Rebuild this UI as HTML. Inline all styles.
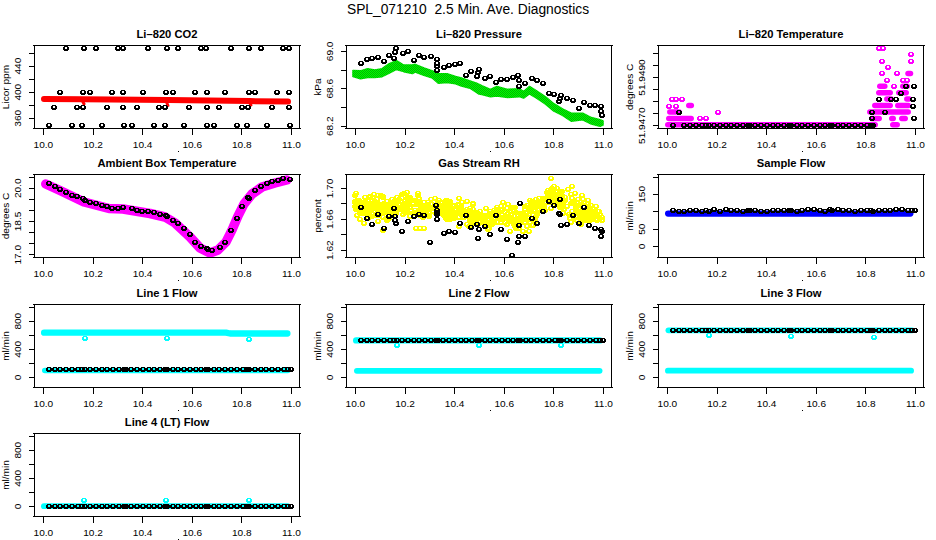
<!DOCTYPE html>
<html><head><meta charset="utf-8"><style>
html,body{margin:0;padding:0;background:#fff;}
svg{display:block;}
text{font-family:"Liberation Sans",sans-serif;fill:#000;}
.tk{font-size:10.1px;}
.lb{font-size:10.1px;}
.ti{font-size:11.2px;font-weight:bold;}
.mt{font-size:13.8px;}
.ln{fill:none;stroke:#000;stroke-width:1;shape-rendering:crispEdges;}
</style></head><body>
<svg width="936" height="540" viewBox="0 0 936 540">
<defs><pattern id="gp" patternUnits="userSpaceOnUse" width="2" height="2"><rect width="2" height="2" fill="#00ff00"/><rect width="1" height="1" fill="#00b400"/><rect x="1" y="1" width="1" height="1" fill="#00b400"/></pattern><path id="o" d="M-2 -2.5h4v1h1v3h-1v1h-4v-1h-1v-3h1z M-1 -1.5v2h2v-2z" fill-rule="evenodd"/></defs>
<rect width="936" height="540" fill="#fff"/>
<path d="M44.0 98.9 L83.0 99.3 L168.0 100.1 L250.0 101.1 L288.0 101.6" fill="none" stroke="#ff0000" stroke-width="6" stroke-linecap="round" stroke-linejoin="round"/>
<path d="M82.0 100.0 L84.0 104.0" fill="none" stroke="#ff0000" stroke-width="3" stroke-linecap="round" stroke-linejoin="round"/>
<path d="M166.0 101.0 L168.0 105.5" fill="none" stroke="#ff0000" stroke-width="3" stroke-linecap="round" stroke-linejoin="round"/>
<path d="M249.0 102.0 L251.0 105.0" fill="none" stroke="#ff0000" stroke-width="3" stroke-linecap="round" stroke-linejoin="round"/>
<use href="#o" x="66" y="48.5" fill="#000"/>
<use href="#o" x="84" y="48.5" fill="#000"/>
<use href="#o" x="96" y="48.5" fill="#000"/>
<use href="#o" x="118" y="48.5" fill="#000"/>
<use href="#o" x="123" y="48.5" fill="#000"/>
<use href="#o" x="148" y="48.5" fill="#000"/>
<use href="#o" x="167" y="48.5" fill="#000"/>
<use href="#o" x="178" y="48.5" fill="#000"/>
<use href="#o" x="201" y="48.5" fill="#000"/>
<use href="#o" x="206" y="48.5" fill="#000"/>
<use href="#o" x="231" y="48.5" fill="#000"/>
<use href="#o" x="249" y="48.5" fill="#000"/>
<use href="#o" x="261" y="48.5" fill="#000"/>
<use href="#o" x="283" y="48.5" fill="#000"/>
<use href="#o" x="289" y="48.5" fill="#000"/>
<use href="#o" x="60" y="92.5" fill="#000"/>
<use href="#o" x="83" y="92.5" fill="#000"/>
<use href="#o" x="90" y="92.5" fill="#000"/>
<use href="#o" x="112" y="92.5" fill="#000"/>
<use href="#o" x="123" y="92.5" fill="#000"/>
<use href="#o" x="143" y="92.5" fill="#000"/>
<use href="#o" x="166" y="92.5" fill="#000"/>
<use href="#o" x="173" y="92.5" fill="#000"/>
<use href="#o" x="195" y="92.5" fill="#000"/>
<use href="#o" x="207" y="92.5" fill="#000"/>
<use href="#o" x="225" y="92.5" fill="#000"/>
<use href="#o" x="249" y="92.5" fill="#000"/>
<use href="#o" x="255" y="92.5" fill="#000"/>
<use href="#o" x="277" y="92.5" fill="#000"/>
<use href="#o" x="289" y="92.5" fill="#000"/>
<use href="#o" x="54" y="107.5" fill="#000"/>
<use href="#o" x="77" y="107.5" fill="#000"/>
<use href="#o" x="83" y="107.5" fill="#000"/>
<use href="#o" x="107" y="107.5" fill="#000"/>
<use href="#o" x="123" y="107.5" fill="#000"/>
<use href="#o" x="137" y="107.5" fill="#000"/>
<use href="#o" x="159" y="107.5" fill="#000"/>
<use href="#o" x="165" y="107.5" fill="#000"/>
<use href="#o" x="189" y="107.5" fill="#000"/>
<use href="#o" x="207" y="107.5" fill="#000"/>
<use href="#o" x="219" y="107.5" fill="#000"/>
<use href="#o" x="242" y="107.5" fill="#000"/>
<use href="#o" x="248" y="107.5" fill="#000"/>
<use href="#o" x="272" y="107.5" fill="#000"/>
<use href="#o" x="289" y="107.5" fill="#000"/>
<use href="#o" x="49" y="125.5" fill="#000"/>
<use href="#o" x="72" y="125.5" fill="#000"/>
<use href="#o" x="82" y="125.5" fill="#000"/>
<use href="#o" x="102" y="125.5" fill="#000"/>
<use href="#o" x="124" y="125.5" fill="#000"/>
<use href="#o" x="132" y="125.5" fill="#000"/>
<use href="#o" x="154" y="125.5" fill="#000"/>
<use href="#o" x="165" y="125.5" fill="#000"/>
<use href="#o" x="184" y="125.5" fill="#000"/>
<use href="#o" x="207" y="125.5" fill="#000"/>
<use href="#o" x="214" y="125.5" fill="#000"/>
<use href="#o" x="237" y="125.5" fill="#000"/>
<use href="#o" x="247" y="125.5" fill="#000"/>
<use href="#o" x="267" y="125.5" fill="#000"/>
<use href="#o" x="290" y="125.5" fill="#000"/>
<path d="M353.0 70.6 L360.4 70.9 L367.6 68.7 L374.8 70.1 L382.1 68.7 L389.3 63.7 L396.5 60.8 L403.7 65.1 L412.3 65.1 L415.2 64.4 L423.9 68.0 L432.5 70.9 L438.3 73.8 L447.0 73.8 L455.6 76.6 L461.4 78.1 L470.0 81.0 L476.0 82.9 L481.8 85.8 L490.4 89.4 L496.9 86.5 L507.7 89.4 L519.3 88.7 L523.6 91.6 L529.4 86.5 L536.6 90.9 L545.2 96.6 L553.9 103.8 L562.5 108.9 L571.2 113.2 L582.7 113.2 L591.4 117.6 L600.0 119.7 L603.0 121.0 L603.0 125.0 L600.0 126.2 L591.4 124.0 L582.7 119.7 L571.2 121.2 L562.5 115.4 L553.9 111.1 L545.2 103.8 L536.6 98.1 L529.4 93.8 L523.6 98.1 L519.3 96.6 L507.7 97.4 L496.9 95.9 L490.4 96.6 L481.8 94.5 L478.7 93.9 L470.0 88.2 L461.4 86.0 L455.6 83.8 L447.0 82.4 L438.3 83.1 L432.5 78.1 L423.9 75.2 L415.2 72.0 L412.3 73.5 L403.7 71.6 L396.5 69.4 L389.3 73.0 L382.1 76.6 L374.8 77.4 L367.6 77.4 L360.4 78.8 L353.0 76.6Z" fill="url(#gp)" stroke="url(#gp)" stroke-width="1.6" stroke-linejoin="round"/>
<use href="#o" x="361" y="63.5" fill="#000"/>
<use href="#o" x="367" y="59.5" fill="#000"/>
<use href="#o" x="372" y="58.5" fill="#000"/>
<use href="#o" x="378" y="57.5" fill="#000"/>
<use href="#o" x="384" y="61.5" fill="#000"/>
<use href="#o" x="389" y="55.5" fill="#000"/>
<use href="#o" x="394" y="58.5" fill="#000"/>
<use href="#o" x="395" y="52.5" fill="#000"/>
<use href="#o" x="396" y="48.5" fill="#000"/>
<use href="#o" x="403" y="53.5" fill="#000"/>
<use href="#o" x="408" y="51.5" fill="#000"/>
<use href="#o" x="414" y="60.5" fill="#000"/>
<use href="#o" x="419" y="55.5" fill="#000"/>
<use href="#o" x="424" y="57.5" fill="#000"/>
<use href="#o" x="431" y="56.5" fill="#000"/>
<use href="#o" x="437" y="59.5" fill="#000"/>
<use href="#o" x="437" y="63.5" fill="#000"/>
<use href="#o" x="437" y="66.5" fill="#000"/>
<use href="#o" x="437" y="70.5" fill="#000"/>
<use href="#o" x="444" y="67.5" fill="#000"/>
<use href="#o" x="449" y="65.5" fill="#000"/>
<use href="#o" x="455" y="64.5" fill="#000"/>
<use href="#o" x="460" y="63.5" fill="#000"/>
<use href="#o" x="466" y="75.5" fill="#000"/>
<use href="#o" x="471" y="71.5" fill="#000"/>
<use href="#o" x="479" y="69.5" fill="#000"/>
<use href="#o" x="478" y="72.5" fill="#000"/>
<use href="#o" x="477" y="76.5" fill="#000"/>
<use href="#o" x="485" y="78.5" fill="#000"/>
<use href="#o" x="490" y="76.5" fill="#000"/>
<use href="#o" x="496" y="82.5" fill="#000"/>
<use href="#o" x="501" y="79.5" fill="#000"/>
<use href="#o" x="507" y="79.5" fill="#000"/>
<use href="#o" x="513" y="77.5" fill="#000"/>
<use href="#o" x="518" y="75.5" fill="#000"/>
<use href="#o" x="519" y="80.5" fill="#000"/>
<use href="#o" x="519" y="86.5" fill="#000"/>
<use href="#o" x="525" y="83.5" fill="#000"/>
<use href="#o" x="532" y="78.5" fill="#000"/>
<use href="#o" x="537" y="80.5" fill="#000"/>
<use href="#o" x="543" y="83.5" fill="#000"/>
<use href="#o" x="549" y="93.5" fill="#000"/>
<use href="#o" x="554" y="94.5" fill="#000"/>
<use href="#o" x="561" y="95.5" fill="#000"/>
<use href="#o" x="560" y="98.5" fill="#000"/>
<use href="#o" x="559" y="101.5" fill="#000"/>
<use href="#o" x="567" y="98.5" fill="#000"/>
<use href="#o" x="573" y="100.5" fill="#000"/>
<use href="#o" x="579" y="108.5" fill="#000"/>
<use href="#o" x="584" y="102.5" fill="#000"/>
<use href="#o" x="590" y="105.5" fill="#000"/>
<use href="#o" x="595" y="105.5" fill="#000"/>
<use href="#o" x="601" y="106.5" fill="#000"/>
<use href="#o" x="601" y="111.5" fill="#000"/>
<use href="#o" x="602" y="115.5" fill="#000"/>
<path d="M667.8 124.8 L875.2 124.8" fill="none" stroke="#ff00ff" stroke-width="5.5" stroke-linecap="round" stroke-linejoin="round"/>
<path d="M892.8 124.8 L897.2 124.8" fill="none" stroke="#ff00ff" stroke-width="5.5" stroke-linecap="round" stroke-linejoin="round"/>
<path d="M668.8 118.4 L691.2 118.4" fill="none" stroke="#ff00ff" stroke-width="5.5" stroke-linecap="round" stroke-linejoin="round"/>
<use href="#o" x="700" y="118.5" fill="#ff00ff"/>
<use href="#o" x="706" y="118.5" fill="#ff00ff"/>
<path d="M871.8 118.4 L879.2 118.4" fill="none" stroke="#ff00ff" stroke-width="5.5" stroke-linecap="round" stroke-linejoin="round"/>
<path d="M891.8 118.4 L893.2 118.4" fill="none" stroke="#ff00ff" stroke-width="5.5" stroke-linecap="round" stroke-linejoin="round"/>
<path d="M901.8 118.4 L905.2 118.4" fill="none" stroke="#ff00ff" stroke-width="5.5" stroke-linecap="round" stroke-linejoin="round"/>
<path d="M669.8 112.0 L679.2 112.0" fill="none" stroke="#ff00ff" stroke-width="5.5" stroke-linecap="round" stroke-linejoin="round"/>
<use href="#o" x="718" y="112.5" fill="#ff00ff"/>
<path d="M869.8 112.0 L908.2 112.0" fill="none" stroke="#ff00ff" stroke-width="5.5" stroke-linecap="round" stroke-linejoin="round"/>
<use href="#o" x="669" y="106.5" fill="#ff00ff"/>
<use href="#o" x="676" y="106.5" fill="#ff00ff"/>
<path d="M688.8 105.5 L691.3 105.5" fill="none" stroke="#ff00ff" stroke-width="5.5" stroke-linecap="round" stroke-linejoin="round"/>
<path d="M874.8 105.5 L890.2 105.5" fill="none" stroke="#ff00ff" stroke-width="5.5" stroke-linecap="round" stroke-linejoin="round"/>
<path d="M897.8 105.5 L908.2 105.5" fill="none" stroke="#ff00ff" stroke-width="5.5" stroke-linecap="round" stroke-linejoin="round"/>
<use href="#o" x="672" y="99.5" fill="#ff00ff"/>
<use href="#o" x="676" y="99.5" fill="#ff00ff"/>
<use href="#o" x="682" y="99.5" fill="#ff00ff"/>
<path d="M886.8 99.1 L891.2 99.1" fill="none" stroke="#ff00ff" stroke-width="5.5" stroke-linecap="round" stroke-linejoin="round"/>
<path d="M906.8 99.1 L909.2 99.1" fill="none" stroke="#ff00ff" stroke-width="5.5" stroke-linecap="round" stroke-linejoin="round"/>
<path d="M878.8 92.7 L890.2 92.7" fill="none" stroke="#ff00ff" stroke-width="5.5" stroke-linecap="round" stroke-linejoin="round"/>
<path d="M898.8 92.7 L906.2 92.7" fill="none" stroke="#ff00ff" stroke-width="5.5" stroke-linecap="round" stroke-linejoin="round"/>
<path d="M879.8 86.3 L884.8 86.3" fill="none" stroke="#ff00ff" stroke-width="5.5" stroke-linecap="round" stroke-linejoin="round"/>
<use href="#o" x="894" y="86.5" fill="#ff00ff"/>
<path d="M902.8 86.3 L907.2 86.3" fill="none" stroke="#ff00ff" stroke-width="5.5" stroke-linecap="round" stroke-linejoin="round"/>
<use href="#o" x="887" y="80.5" fill="#ff00ff"/>
<use href="#o" x="903" y="80.5" fill="#ff00ff"/>
<use href="#o" x="907" y="80.5" fill="#ff00ff"/>
<use href="#o" x="882" y="73.5" fill="#ff00ff"/>
<use href="#o" x="897" y="73.5" fill="#ff00ff"/>
<path d="M908.0 73.4 L910.5 73.4" fill="none" stroke="#ff00ff" stroke-width="5.5" stroke-linecap="round" stroke-linejoin="round"/>
<use href="#o" x="888" y="67.5" fill="#ff00ff"/>
<use href="#o" x="882" y="61.5" fill="#ff00ff"/>
<use href="#o" x="911" y="61.5" fill="#ff00ff"/>
<use href="#o" x="911" y="54.5" fill="#ff00ff"/>
<use href="#o" x="879" y="48.5" fill="#ff00ff"/>
<use href="#o" x="883" y="48.5" fill="#ff00ff"/>
<use href="#o" x="673" y="125.5" fill="#000"/>
<use href="#o" x="684" y="125.5" fill="#000"/>
<use href="#o" x="690" y="125.5" fill="#000"/>
<use href="#o" x="696" y="125.5" fill="#000"/>
<use href="#o" x="702" y="125.5" fill="#000"/>
<use href="#o" x="706" y="125.5" fill="#000"/>
<use href="#o" x="709" y="125.5" fill="#000"/>
<use href="#o" x="714" y="125.5" fill="#000"/>
<use href="#o" x="720" y="125.5" fill="#000"/>
<use href="#o" x="726" y="125.5" fill="#000"/>
<use href="#o" x="731" y="125.5" fill="#000"/>
<use href="#o" x="737" y="125.5" fill="#000"/>
<use href="#o" x="743" y="125.5" fill="#000"/>
<use href="#o" x="748" y="125.5" fill="#000"/>
<use href="#o" x="750" y="125.5" fill="#000"/>
<use href="#o" x="755" y="125.5" fill="#000"/>
<use href="#o" x="761" y="125.5" fill="#000"/>
<use href="#o" x="767" y="125.5" fill="#000"/>
<use href="#o" x="773" y="125.5" fill="#000"/>
<use href="#o" x="778" y="125.5" fill="#000"/>
<use href="#o" x="784" y="125.5" fill="#000"/>
<use href="#o" x="789" y="125.5" fill="#000"/>
<use href="#o" x="791" y="125.5" fill="#000"/>
<use href="#o" x="797" y="125.5" fill="#000"/>
<use href="#o" x="802" y="125.5" fill="#000"/>
<use href="#o" x="808" y="125.5" fill="#000"/>
<use href="#o" x="814" y="125.5" fill="#000"/>
<use href="#o" x="820" y="125.5" fill="#000"/>
<use href="#o" x="825" y="125.5" fill="#000"/>
<use href="#o" x="830" y="125.5" fill="#000"/>
<use href="#o" x="832" y="125.5" fill="#000"/>
<use href="#o" x="838" y="125.5" fill="#000"/>
<use href="#o" x="843" y="125.5" fill="#000"/>
<use href="#o" x="849" y="125.5" fill="#000"/>
<use href="#o" x="855" y="125.5" fill="#000"/>
<use href="#o" x="861" y="125.5" fill="#000"/>
<use href="#o" x="867" y="125.5" fill="#000"/>
<use href="#o" x="871" y="125.5" fill="#000"/>
<use href="#o" x="873" y="125.5" fill="#000"/>
<use href="#o" x="872" y="118.5" fill="#000"/>
<use href="#o" x="914" y="118.5" fill="#000"/>
<use href="#o" x="679" y="112.5" fill="#000"/>
<use href="#o" x="872" y="112.5" fill="#000"/>
<use href="#o" x="885" y="112.5" fill="#000"/>
<use href="#o" x="913" y="106.5" fill="#000"/>
<use href="#o" x="879" y="99.5" fill="#000"/>
<use href="#o" x="891" y="99.5" fill="#000"/>
<use href="#o" x="896" y="99.5" fill="#000"/>
<use href="#o" x="913" y="99.5" fill="#000"/>
<use href="#o" x="901" y="93.5" fill="#000"/>
<use href="#o" x="906" y="86.5" fill="#000"/>
<use href="#o" x="914" y="86.5" fill="#000"/>
<path d="M45.8 184.0 L60.0 190.5 L84.0 202.0 L109.0 208.5 L123.0 209.0 L150.0 213.5 L165.0 217.0 L175.0 223.0 L190.0 237.0 L200.0 248.0 L210.0 253.0 L218.0 250.0 L226.0 242.0 L232.0 230.0 L238.0 216.0 L244.0 204.0 L252.0 194.0 L262.0 187.0 L275.0 183.0 L286.8 180.0" fill="none" stroke="#ff00ff" stroke-width="9.5" stroke-linecap="round" stroke-linejoin="round"/>
<use href="#o" x="49" y="183.5" fill="#000"/>
<use href="#o" x="55" y="186.5" fill="#000"/>
<use href="#o" x="60" y="189.5" fill="#000"/>
<use href="#o" x="66" y="192.5" fill="#000"/>
<use href="#o" x="72" y="195.5" fill="#000"/>
<use href="#o" x="77" y="196.5" fill="#000"/>
<use href="#o" x="83" y="198.5" fill="#000"/>
<use href="#o" x="85" y="200.5" fill="#000"/>
<use href="#o" x="90" y="202.5" fill="#000"/>
<use href="#o" x="96" y="203.5" fill="#000"/>
<use href="#o" x="102" y="205.5" fill="#000"/>
<use href="#o" x="107" y="206.5" fill="#000"/>
<use href="#o" x="112" y="208.5" fill="#000"/>
<use href="#o" x="118" y="208.5" fill="#000"/>
<use href="#o" x="123" y="207.5" fill="#000"/>
<use href="#o" x="132" y="208.5" fill="#000"/>
<use href="#o" x="137" y="210.5" fill="#000"/>
<use href="#o" x="142" y="211.5" fill="#000"/>
<use href="#o" x="148" y="211.5" fill="#000"/>
<use href="#o" x="154" y="212.5" fill="#000"/>
<use href="#o" x="160" y="214.5" fill="#000"/>
<use href="#o" x="166" y="215.5" fill="#000"/>
<use href="#o" x="167" y="216.5" fill="#000"/>
<use href="#o" x="173" y="220.5" fill="#000"/>
<use href="#o" x="178" y="223.5" fill="#000"/>
<use href="#o" x="184" y="228.5" fill="#000"/>
<use href="#o" x="190" y="234.5" fill="#000"/>
<use href="#o" x="195" y="242.5" fill="#000"/>
<use href="#o" x="201" y="246.5" fill="#000"/>
<use href="#o" x="207" y="248.5" fill="#000"/>
<use href="#o" x="208" y="249.5" fill="#000"/>
<use href="#o" x="212" y="250.5" fill="#000"/>
<use href="#o" x="220" y="247.5" fill="#000"/>
<use href="#o" x="225" y="242.5" fill="#000"/>
<use href="#o" x="231" y="230.5" fill="#000"/>
<use href="#o" x="237" y="218.5" fill="#000"/>
<use href="#o" x="242" y="206.5" fill="#000"/>
<use href="#o" x="248" y="197.5" fill="#000"/>
<use href="#o" x="249" y="198.5" fill="#000"/>
<use href="#o" x="255" y="190.5" fill="#000"/>
<use href="#o" x="261" y="186.5" fill="#000"/>
<use href="#o" x="267" y="183.5" fill="#000"/>
<use href="#o" x="272" y="181.5" fill="#000"/>
<use href="#o" x="278" y="180.5" fill="#000"/>
<use href="#o" x="283" y="178.5" fill="#000"/>
<use href="#o" x="290" y="179.5" fill="#000"/>
<use href="#o" x="509" y="217.5" fill="#ffff00"/>
<use href="#o" x="588" y="200.5" fill="#ffff00"/>
<use href="#o" x="538" y="209.5" fill="#ffff00"/>
<use href="#o" x="470" y="213.5" fill="#ffff00"/>
<use href="#o" x="588" y="203.5" fill="#ffff00"/>
<use href="#o" x="383" y="197.5" fill="#ffff00"/>
<use href="#o" x="471" y="214.5" fill="#ffff00"/>
<use href="#o" x="497" y="222.5" fill="#ffff00"/>
<use href="#o" x="358" y="207.5" fill="#ffff00"/>
<use href="#o" x="582" y="216.5" fill="#ffff00"/>
<use href="#o" x="544" y="207.5" fill="#ffff00"/>
<use href="#o" x="389" y="218.5" fill="#ffff00"/>
<use href="#o" x="508" y="218.5" fill="#ffff00"/>
<use href="#o" x="571" y="203.5" fill="#ffff00"/>
<use href="#o" x="406" y="207.5" fill="#ffff00"/>
<use href="#o" x="571" y="222.5" fill="#ffff00"/>
<use href="#o" x="426" y="214.5" fill="#ffff00"/>
<use href="#o" x="523" y="216.5" fill="#ffff00"/>
<use href="#o" x="405" y="212.5" fill="#ffff00"/>
<use href="#o" x="594" y="211.5" fill="#ffff00"/>
<use href="#o" x="576" y="206.5" fill="#ffff00"/>
<use href="#o" x="396" y="211.5" fill="#ffff00"/>
<use href="#o" x="391" y="213.5" fill="#ffff00"/>
<use href="#o" x="504" y="218.5" fill="#ffff00"/>
<use href="#o" x="355" y="201.5" fill="#ffff00"/>
<use href="#o" x="431" y="204.5" fill="#ffff00"/>
<use href="#o" x="557" y="192.5" fill="#ffff00"/>
<use href="#o" x="474" y="214.5" fill="#ffff00"/>
<use href="#o" x="529" y="231.5" fill="#ffff00"/>
<use href="#o" x="360" y="213.5" fill="#ffff00"/>
<use href="#o" x="540" y="205.5" fill="#ffff00"/>
<use href="#o" x="550" y="196.5" fill="#ffff00"/>
<use href="#o" x="445" y="208.5" fill="#ffff00"/>
<use href="#o" x="366" y="209.5" fill="#ffff00"/>
<use href="#o" x="399" y="208.5" fill="#ffff00"/>
<use href="#o" x="542" y="200.5" fill="#ffff00"/>
<use href="#o" x="585" y="216.5" fill="#ffff00"/>
<use href="#o" x="442" y="206.5" fill="#ffff00"/>
<use href="#o" x="485" y="219.5" fill="#ffff00"/>
<use href="#o" x="540" y="201.5" fill="#ffff00"/>
<use href="#o" x="552" y="196.5" fill="#ffff00"/>
<use href="#o" x="589" y="210.5" fill="#ffff00"/>
<use href="#o" x="377" y="203.5" fill="#ffff00"/>
<use href="#o" x="582" y="219.5" fill="#ffff00"/>
<use href="#o" x="439" y="212.5" fill="#ffff00"/>
<use href="#o" x="432" y="204.5" fill="#ffff00"/>
<use href="#o" x="433" y="208.5" fill="#ffff00"/>
<use href="#o" x="391" y="210.5" fill="#ffff00"/>
<use href="#o" x="525" y="222.5" fill="#ffff00"/>
<use href="#o" x="367" y="209.5" fill="#ffff00"/>
<use href="#o" x="599" y="211.5" fill="#ffff00"/>
<use href="#o" x="413" y="203.5" fill="#ffff00"/>
<use href="#o" x="502" y="219.5" fill="#ffff00"/>
<use href="#o" x="459" y="205.5" fill="#ffff00"/>
<use href="#o" x="368" y="210.5" fill="#ffff00"/>
<use href="#o" x="477" y="214.5" fill="#ffff00"/>
<use href="#o" x="562" y="207.5" fill="#ffff00"/>
<use href="#o" x="590" y="218.5" fill="#ffff00"/>
<use href="#o" x="511" y="219.5" fill="#ffff00"/>
<use href="#o" x="462" y="210.5" fill="#ffff00"/>
<use href="#o" x="392" y="211.5" fill="#ffff00"/>
<use href="#o" x="467" y="209.5" fill="#ffff00"/>
<use href="#o" x="602" y="220.5" fill="#ffff00"/>
<use href="#o" x="467" y="201.5" fill="#ffff00"/>
<use href="#o" x="476" y="213.5" fill="#ffff00"/>
<use href="#o" x="427" y="204.5" fill="#ffff00"/>
<use href="#o" x="455" y="216.5" fill="#ffff00"/>
<use href="#o" x="600" y="218.5" fill="#ffff00"/>
<use href="#o" x="593" y="209.5" fill="#ffff00"/>
<use href="#o" x="438" y="202.5" fill="#ffff00"/>
<use href="#o" x="377" y="206.5" fill="#ffff00"/>
<use href="#o" x="570" y="218.5" fill="#ffff00"/>
<use href="#o" x="444" y="211.5" fill="#ffff00"/>
<use href="#o" x="527" y="205.5" fill="#ffff00"/>
<use href="#o" x="519" y="218.5" fill="#ffff00"/>
<use href="#o" x="529" y="209.5" fill="#ffff00"/>
<use href="#o" x="424" y="202.5" fill="#ffff00"/>
<use href="#o" x="526" y="219.5" fill="#ffff00"/>
<use href="#o" x="427" y="215.5" fill="#ffff00"/>
<use href="#o" x="499" y="212.5" fill="#ffff00"/>
<use href="#o" x="357" y="201.5" fill="#ffff00"/>
<use href="#o" x="521" y="216.5" fill="#ffff00"/>
<use href="#o" x="469" y="217.5" fill="#ffff00"/>
<use href="#o" x="552" y="188.5" fill="#ffff00"/>
<use href="#o" x="441" y="202.5" fill="#ffff00"/>
<use href="#o" x="560" y="191.5" fill="#ffff00"/>
<use href="#o" x="441" y="212.5" fill="#ffff00"/>
<use href="#o" x="525" y="206.5" fill="#ffff00"/>
<use href="#o" x="597" y="219.5" fill="#ffff00"/>
<use href="#o" x="486" y="216.5" fill="#ffff00"/>
<use href="#o" x="396" y="213.5" fill="#ffff00"/>
<use href="#o" x="473" y="203.5" fill="#ffff00"/>
<use href="#o" x="526" y="215.5" fill="#ffff00"/>
<use href="#o" x="397" y="197.5" fill="#ffff00"/>
<use href="#o" x="548" y="190.5" fill="#ffff00"/>
<use href="#o" x="459" y="207.5" fill="#ffff00"/>
<use href="#o" x="509" y="219.5" fill="#ffff00"/>
<use href="#o" x="533" y="203.5" fill="#ffff00"/>
<use href="#o" x="361" y="212.5" fill="#ffff00"/>
<use href="#o" x="516" y="223.5" fill="#ffff00"/>
<use href="#o" x="409" y="201.5" fill="#ffff00"/>
<use href="#o" x="365" y="201.5" fill="#ffff00"/>
<use href="#o" x="471" y="214.5" fill="#ffff00"/>
<use href="#o" x="388" y="211.5" fill="#ffff00"/>
<use href="#o" x="433" y="208.5" fill="#ffff00"/>
<use href="#o" x="363" y="213.5" fill="#ffff00"/>
<use href="#o" x="470" y="208.5" fill="#ffff00"/>
<use href="#o" x="501" y="222.5" fill="#ffff00"/>
<use href="#o" x="413" y="204.5" fill="#ffff00"/>
<use href="#o" x="455" y="212.5" fill="#ffff00"/>
<use href="#o" x="424" y="207.5" fill="#ffff00"/>
<use href="#o" x="561" y="201.5" fill="#ffff00"/>
<use href="#o" x="447" y="219.5" fill="#ffff00"/>
<use href="#o" x="378" y="210.5" fill="#ffff00"/>
<use href="#o" x="490" y="213.5" fill="#ffff00"/>
<use href="#o" x="592" y="218.5" fill="#ffff00"/>
<use href="#o" x="557" y="188.5" fill="#ffff00"/>
<use href="#o" x="514" y="224.5" fill="#ffff00"/>
<use href="#o" x="446" y="215.5" fill="#ffff00"/>
<use href="#o" x="494" y="221.5" fill="#ffff00"/>
<use href="#o" x="592" y="219.5" fill="#ffff00"/>
<use href="#o" x="442" y="206.5" fill="#ffff00"/>
<use href="#o" x="576" y="212.5" fill="#ffff00"/>
<use href="#o" x="495" y="215.5" fill="#ffff00"/>
<use href="#o" x="507" y="224.5" fill="#ffff00"/>
<use href="#o" x="576" y="217.5" fill="#ffff00"/>
<use href="#o" x="448" y="206.5" fill="#ffff00"/>
<use href="#o" x="427" y="210.5" fill="#ffff00"/>
<use href="#o" x="596" y="206.5" fill="#ffff00"/>
<use href="#o" x="581" y="224.5" fill="#ffff00"/>
<use href="#o" x="502" y="215.5" fill="#ffff00"/>
<use href="#o" x="478" y="224.5" fill="#ffff00"/>
<use href="#o" x="458" y="204.5" fill="#ffff00"/>
<use href="#o" x="476" y="223.5" fill="#ffff00"/>
<use href="#o" x="426" y="207.5" fill="#ffff00"/>
<use href="#o" x="509" y="218.5" fill="#ffff00"/>
<use href="#o" x="464" y="210.5" fill="#ffff00"/>
<use href="#o" x="560" y="207.5" fill="#ffff00"/>
<use href="#o" x="358" y="201.5" fill="#ffff00"/>
<use href="#o" x="586" y="209.5" fill="#ffff00"/>
<use href="#o" x="548" y="198.5" fill="#ffff00"/>
<use href="#o" x="393" y="212.5" fill="#ffff00"/>
<use href="#o" x="600" y="214.5" fill="#ffff00"/>
<use href="#o" x="472" y="220.5" fill="#ffff00"/>
<use href="#o" x="514" y="211.5" fill="#ffff00"/>
<use href="#o" x="384" y="203.5" fill="#ffff00"/>
<use href="#o" x="543" y="198.5" fill="#ffff00"/>
<use href="#o" x="438" y="212.5" fill="#ffff00"/>
<use href="#o" x="428" y="204.5" fill="#ffff00"/>
<use href="#o" x="444" y="207.5" fill="#ffff00"/>
<use href="#o" x="539" y="204.5" fill="#ffff00"/>
<use href="#o" x="417" y="204.5" fill="#ffff00"/>
<use href="#o" x="467" y="224.5" fill="#ffff00"/>
<use href="#o" x="490" y="211.5" fill="#ffff00"/>
<use href="#o" x="358" y="207.5" fill="#ffff00"/>
<use href="#o" x="497" y="209.5" fill="#ffff00"/>
<use href="#o" x="530" y="210.5" fill="#ffff00"/>
<use href="#o" x="581" y="204.5" fill="#ffff00"/>
<use href="#o" x="450" y="201.5" fill="#ffff00"/>
<use href="#o" x="403" y="210.5" fill="#ffff00"/>
<use href="#o" x="428" y="209.5" fill="#ffff00"/>
<use href="#o" x="562" y="198.5" fill="#ffff00"/>
<use href="#o" x="527" y="212.5" fill="#ffff00"/>
<use href="#o" x="548" y="200.5" fill="#ffff00"/>
<use href="#o" x="580" y="216.5" fill="#ffff00"/>
<use href="#o" x="491" y="221.5" fill="#ffff00"/>
<use href="#o" x="478" y="214.5" fill="#ffff00"/>
<use href="#o" x="500" y="219.5" fill="#ffff00"/>
<use href="#o" x="556" y="198.5" fill="#ffff00"/>
<use href="#o" x="558" y="198.5" fill="#ffff00"/>
<use href="#o" x="551" y="196.5" fill="#ffff00"/>
<use href="#o" x="534" y="211.5" fill="#ffff00"/>
<use href="#o" x="597" y="220.5" fill="#ffff00"/>
<use href="#o" x="367" y="209.5" fill="#ffff00"/>
<use href="#o" x="563" y="203.5" fill="#ffff00"/>
<use href="#o" x="591" y="219.5" fill="#ffff00"/>
<use href="#o" x="531" y="219.5" fill="#ffff00"/>
<use href="#o" x="582" y="215.5" fill="#ffff00"/>
<use href="#o" x="392" y="204.5" fill="#ffff00"/>
<use href="#o" x="394" y="204.5" fill="#ffff00"/>
<use href="#o" x="509" y="221.5" fill="#ffff00"/>
<use href="#o" x="449" y="211.5" fill="#ffff00"/>
<use href="#o" x="372" y="216.5" fill="#ffff00"/>
<use href="#o" x="539" y="210.5" fill="#ffff00"/>
<use href="#o" x="572" y="211.5" fill="#ffff00"/>
<use href="#o" x="433" y="211.5" fill="#ffff00"/>
<use href="#o" x="503" y="202.5" fill="#ffff00"/>
<use href="#o" x="447" y="211.5" fill="#ffff00"/>
<use href="#o" x="368" y="207.5" fill="#ffff00"/>
<use href="#o" x="511" y="215.5" fill="#ffff00"/>
<use href="#o" x="480" y="222.5" fill="#ffff00"/>
<use href="#o" x="508" y="213.5" fill="#ffff00"/>
<use href="#o" x="420" y="202.5" fill="#ffff00"/>
<use href="#o" x="541" y="202.5" fill="#ffff00"/>
<use href="#o" x="483" y="220.5" fill="#ffff00"/>
<use href="#o" x="447" y="213.5" fill="#ffff00"/>
<use href="#o" x="537" y="213.5" fill="#ffff00"/>
<use href="#o" x="517" y="226.5" fill="#ffff00"/>
<use href="#o" x="376" y="206.5" fill="#ffff00"/>
<use href="#o" x="385" y="207.5" fill="#ffff00"/>
<use href="#o" x="502" y="217.5" fill="#ffff00"/>
<use href="#o" x="474" y="223.5" fill="#ffff00"/>
<use href="#o" x="435" y="207.5" fill="#ffff00"/>
<use href="#o" x="534" y="210.5" fill="#ffff00"/>
<use href="#o" x="368" y="218.5" fill="#ffff00"/>
<use href="#o" x="523" y="231.5" fill="#ffff00"/>
<use href="#o" x="410" y="216.5" fill="#ffff00"/>
<use href="#o" x="519" y="228.5" fill="#ffff00"/>
<use href="#o" x="558" y="201.5" fill="#ffff00"/>
<use href="#o" x="442" y="213.5" fill="#ffff00"/>
<use href="#o" x="413" y="200.5" fill="#ffff00"/>
<use href="#o" x="441" y="213.5" fill="#ffff00"/>
<use href="#o" x="450" y="219.5" fill="#ffff00"/>
<use href="#o" x="515" y="226.5" fill="#ffff00"/>
<use href="#o" x="554" y="186.5" fill="#ffff00"/>
<use href="#o" x="483" y="222.5" fill="#ffff00"/>
<use href="#o" x="501" y="206.5" fill="#ffff00"/>
<use href="#o" x="453" y="206.5" fill="#ffff00"/>
<use href="#o" x="379" y="212.5" fill="#ffff00"/>
<use href="#o" x="364" y="210.5" fill="#ffff00"/>
<use href="#o" x="575" y="193.5" fill="#ffff00"/>
<use href="#o" x="355" y="202.5" fill="#ffff00"/>
<use href="#o" x="471" y="219.5" fill="#ffff00"/>
<use href="#o" x="461" y="206.5" fill="#ffff00"/>
<use href="#o" x="470" y="216.5" fill="#ffff00"/>
<use href="#o" x="394" y="209.5" fill="#ffff00"/>
<use href="#o" x="447" y="200.5" fill="#ffff00"/>
<use href="#o" x="392" y="215.5" fill="#ffff00"/>
<use href="#o" x="418" y="204.5" fill="#ffff00"/>
<use href="#o" x="426" y="211.5" fill="#ffff00"/>
<use href="#o" x="413" y="203.5" fill="#ffff00"/>
<use href="#o" x="584" y="210.5" fill="#ffff00"/>
<use href="#o" x="446" y="218.5" fill="#ffff00"/>
<use href="#o" x="522" y="214.5" fill="#ffff00"/>
<use href="#o" x="471" y="216.5" fill="#ffff00"/>
<use href="#o" x="520" y="217.5" fill="#ffff00"/>
<use href="#o" x="427" y="206.5" fill="#ffff00"/>
<use href="#o" x="395" y="200.5" fill="#ffff00"/>
<use href="#o" x="404" y="208.5" fill="#ffff00"/>
<use href="#o" x="374" y="208.5" fill="#ffff00"/>
<use href="#o" x="454" y="218.5" fill="#ffff00"/>
<use href="#o" x="432" y="207.5" fill="#ffff00"/>
<use href="#o" x="471" y="212.5" fill="#ffff00"/>
<use href="#o" x="533" y="225.5" fill="#ffff00"/>
<use href="#o" x="395" y="207.5" fill="#ffff00"/>
<use href="#o" x="588" y="220.5" fill="#ffff00"/>
<use href="#o" x="515" y="207.5" fill="#ffff00"/>
<use href="#o" x="356" y="209.5" fill="#ffff00"/>
<use href="#o" x="370" y="210.5" fill="#ffff00"/>
<use href="#o" x="366" y="202.5" fill="#ffff00"/>
<use href="#o" x="491" y="223.5" fill="#ffff00"/>
<use href="#o" x="441" y="206.5" fill="#ffff00"/>
<use href="#o" x="378" y="221.5" fill="#ffff00"/>
<use href="#o" x="476" y="218.5" fill="#ffff00"/>
<use href="#o" x="587" y="215.5" fill="#ffff00"/>
<use href="#o" x="367" y="211.5" fill="#ffff00"/>
<use href="#o" x="453" y="216.5" fill="#ffff00"/>
<use href="#o" x="456" y="214.5" fill="#ffff00"/>
<use href="#o" x="430" y="209.5" fill="#ffff00"/>
<use href="#o" x="595" y="214.5" fill="#ffff00"/>
<use href="#o" x="399" y="199.5" fill="#ffff00"/>
<use href="#o" x="486" y="217.5" fill="#ffff00"/>
<use href="#o" x="375" y="206.5" fill="#ffff00"/>
<use href="#o" x="489" y="219.5" fill="#ffff00"/>
<use href="#o" x="583" y="199.5" fill="#ffff00"/>
<use href="#o" x="408" y="197.5" fill="#ffff00"/>
<use href="#o" x="359" y="200.5" fill="#ffff00"/>
<use href="#o" x="496" y="213.5" fill="#ffff00"/>
<use href="#o" x="448" y="203.5" fill="#ffff00"/>
<use href="#o" x="581" y="202.5" fill="#ffff00"/>
<use href="#o" x="431" y="199.5" fill="#ffff00"/>
<use href="#o" x="410" y="207.5" fill="#ffff00"/>
<use href="#o" x="383" y="208.5" fill="#ffff00"/>
<use href="#o" x="546" y="202.5" fill="#ffff00"/>
<use href="#o" x="558" y="195.5" fill="#ffff00"/>
<use href="#o" x="375" y="211.5" fill="#ffff00"/>
<use href="#o" x="415" y="210.5" fill="#ffff00"/>
<use href="#o" x="498" y="218.5" fill="#ffff00"/>
<use href="#o" x="415" y="213.5" fill="#ffff00"/>
<use href="#o" x="366" y="213.5" fill="#ffff00"/>
<use href="#o" x="404" y="203.5" fill="#ffff00"/>
<use href="#o" x="379" y="215.5" fill="#ffff00"/>
<use href="#o" x="459" y="208.5" fill="#ffff00"/>
<use href="#o" x="492" y="224.5" fill="#ffff00"/>
<use href="#o" x="577" y="202.5" fill="#ffff00"/>
<use href="#o" x="497" y="207.5" fill="#ffff00"/>
<use href="#o" x="464" y="217.5" fill="#ffff00"/>
<use href="#o" x="591" y="205.5" fill="#ffff00"/>
<use href="#o" x="535" y="210.5" fill="#ffff00"/>
<use href="#o" x="556" y="191.5" fill="#ffff00"/>
<use href="#o" x="449" y="212.5" fill="#ffff00"/>
<use href="#o" x="397" y="207.5" fill="#ffff00"/>
<use href="#o" x="420" y="204.5" fill="#ffff00"/>
<use href="#o" x="370" y="203.5" fill="#ffff00"/>
<use href="#o" x="544" y="199.5" fill="#ffff00"/>
<use href="#o" x="367" y="208.5" fill="#ffff00"/>
<use href="#o" x="387" y="201.5" fill="#ffff00"/>
<use href="#o" x="590" y="220.5" fill="#ffff00"/>
<use href="#o" x="506" y="218.5" fill="#ffff00"/>
<use href="#o" x="444" y="215.5" fill="#ffff00"/>
<use href="#o" x="436" y="213.5" fill="#ffff00"/>
<use href="#o" x="560" y="199.5" fill="#ffff00"/>
<use href="#o" x="535" y="219.5" fill="#ffff00"/>
<use href="#o" x="397" y="209.5" fill="#ffff00"/>
<use href="#o" x="530" y="200.5" fill="#ffff00"/>
<use href="#o" x="552" y="200.5" fill="#ffff00"/>
<use href="#o" x="384" y="203.5" fill="#ffff00"/>
<use href="#o" x="469" y="226.5" fill="#ffff00"/>
<use href="#o" x="462" y="202.5" fill="#ffff00"/>
<use href="#o" x="587" y="214.5" fill="#ffff00"/>
<use href="#o" x="487" y="225.5" fill="#ffff00"/>
<use href="#o" x="380" y="207.5" fill="#ffff00"/>
<use href="#o" x="556" y="194.5" fill="#ffff00"/>
<use href="#o" x="597" y="215.5" fill="#ffff00"/>
<use href="#o" x="363" y="203.5" fill="#ffff00"/>
<use href="#o" x="573" y="201.5" fill="#ffff00"/>
<use href="#o" x="452" y="212.5" fill="#ffff00"/>
<use href="#o" x="404" y="208.5" fill="#ffff00"/>
<use href="#o" x="494" y="210.5" fill="#ffff00"/>
<use href="#o" x="414" y="212.5" fill="#ffff00"/>
<use href="#o" x="442" y="207.5" fill="#ffff00"/>
<use href="#o" x="563" y="213.5" fill="#ffff00"/>
<use href="#o" x="565" y="197.5" fill="#ffff00"/>
<use href="#o" x="390" y="205.5" fill="#ffff00"/>
<use href="#o" x="561" y="197.5" fill="#ffff00"/>
<use href="#o" x="397" y="206.5" fill="#ffff00"/>
<use href="#o" x="379" y="205.5" fill="#ffff00"/>
<use href="#o" x="404" y="193.5" fill="#ffff00"/>
<use href="#o" x="552" y="192.5" fill="#ffff00"/>
<use href="#o" x="569" y="214.5" fill="#ffff00"/>
<use href="#o" x="509" y="220.5" fill="#ffff00"/>
<use href="#o" x="357" y="200.5" fill="#ffff00"/>
<use href="#o" x="481" y="214.5" fill="#ffff00"/>
<use href="#o" x="451" y="209.5" fill="#ffff00"/>
<use href="#o" x="433" y="211.5" fill="#ffff00"/>
<use href="#o" x="449" y="211.5" fill="#ffff00"/>
<use href="#o" x="473" y="212.5" fill="#ffff00"/>
<use href="#o" x="598" y="211.5" fill="#ffff00"/>
<use href="#o" x="557" y="203.5" fill="#ffff00"/>
<use href="#o" x="521" y="213.5" fill="#ffff00"/>
<use href="#o" x="488" y="219.5" fill="#ffff00"/>
<use href="#o" x="502" y="210.5" fill="#ffff00"/>
<use href="#o" x="523" y="213.5" fill="#ffff00"/>
<use href="#o" x="374" y="207.5" fill="#ffff00"/>
<use href="#o" x="376" y="202.5" fill="#ffff00"/>
<use href="#o" x="543" y="209.5" fill="#ffff00"/>
<use href="#o" x="532" y="208.5" fill="#ffff00"/>
<use href="#o" x="423" y="217.5" fill="#ffff00"/>
<use href="#o" x="532" y="225.5" fill="#ffff00"/>
<use href="#o" x="521" y="222.5" fill="#ffff00"/>
<use href="#o" x="592" y="218.5" fill="#ffff00"/>
<use href="#o" x="562" y="195.5" fill="#ffff00"/>
<use href="#o" x="538" y="204.5" fill="#ffff00"/>
<use href="#o" x="483" y="215.5" fill="#ffff00"/>
<use href="#o" x="577" y="210.5" fill="#ffff00"/>
<use href="#o" x="489" y="228.5" fill="#ffff00"/>
<use href="#o" x="452" y="218.5" fill="#ffff00"/>
<use href="#o" x="399" y="205.5" fill="#ffff00"/>
<use href="#o" x="516" y="228.5" fill="#ffff00"/>
<use href="#o" x="507" y="208.5" fill="#ffff00"/>
<use href="#o" x="450" y="218.5" fill="#ffff00"/>
<use href="#o" x="492" y="221.5" fill="#ffff00"/>
<use href="#o" x="532" y="203.5" fill="#ffff00"/>
<use href="#o" x="407" y="212.5" fill="#ffff00"/>
<use href="#o" x="430" y="207.5" fill="#ffff00"/>
<use href="#o" x="577" y="220.5" fill="#ffff00"/>
<use href="#o" x="396" y="200.5" fill="#ffff00"/>
<use href="#o" x="410" y="197.5" fill="#ffff00"/>
<use href="#o" x="370" y="197.5" fill="#ffff00"/>
<use href="#o" x="572" y="198.5" fill="#ffff00"/>
<use href="#o" x="535" y="205.5" fill="#ffff00"/>
<use href="#o" x="486" y="221.5" fill="#ffff00"/>
<use href="#o" x="579" y="208.5" fill="#ffff00"/>
<use href="#o" x="505" y="222.5" fill="#ffff00"/>
<use href="#o" x="594" y="214.5" fill="#ffff00"/>
<use href="#o" x="383" y="211.5" fill="#ffff00"/>
<use href="#o" x="494" y="212.5" fill="#ffff00"/>
<use href="#o" x="402" y="202.5" fill="#ffff00"/>
<use href="#o" x="502" y="209.5" fill="#ffff00"/>
<use href="#o" x="535" y="203.5" fill="#ffff00"/>
<use href="#o" x="370" y="196.5" fill="#ffff00"/>
<use href="#o" x="592" y="213.5" fill="#ffff00"/>
<use href="#o" x="433" y="211.5" fill="#ffff00"/>
<use href="#o" x="584" y="202.5" fill="#ffff00"/>
<use href="#o" x="411" y="200.5" fill="#ffff00"/>
<use href="#o" x="473" y="204.5" fill="#ffff00"/>
<use href="#o" x="379" y="210.5" fill="#ffff00"/>
<use href="#o" x="378" y="211.5" fill="#ffff00"/>
<use href="#o" x="392" y="207.5" fill="#ffff00"/>
<use href="#o" x="543" y="199.5" fill="#ffff00"/>
<use href="#o" x="537" y="214.5" fill="#ffff00"/>
<use href="#o" x="531" y="202.5" fill="#ffff00"/>
<use href="#o" x="584" y="220.5" fill="#ffff00"/>
<use href="#o" x="594" y="211.5" fill="#ffff00"/>
<use href="#o" x="380" y="211.5" fill="#ffff00"/>
<use href="#o" x="406" y="205.5" fill="#ffff00"/>
<use href="#o" x="447" y="201.5" fill="#ffff00"/>
<use href="#o" x="539" y="209.5" fill="#ffff00"/>
<use href="#o" x="375" y="201.5" fill="#ffff00"/>
<use href="#o" x="448" y="215.5" fill="#ffff00"/>
<use href="#o" x="384" y="204.5" fill="#ffff00"/>
<use href="#o" x="524" y="214.5" fill="#ffff00"/>
<use href="#o" x="477" y="224.5" fill="#ffff00"/>
<use href="#o" x="372" y="204.5" fill="#ffff00"/>
<use href="#o" x="543" y="200.5" fill="#ffff00"/>
<use href="#o" x="383" y="204.5" fill="#ffff00"/>
<use href="#o" x="473" y="209.5" fill="#ffff00"/>
<use href="#o" x="582" y="220.5" fill="#ffff00"/>
<use href="#o" x="449" y="208.5" fill="#ffff00"/>
<use href="#o" x="527" y="226.5" fill="#ffff00"/>
<use href="#o" x="550" y="192.5" fill="#ffff00"/>
<use href="#o" x="438" y="205.5" fill="#ffff00"/>
<use href="#o" x="565" y="200.5" fill="#ffff00"/>
<use href="#o" x="459" y="212.5" fill="#ffff00"/>
<use href="#o" x="413" y="203.5" fill="#ffff00"/>
<use href="#o" x="422" y="206.5" fill="#ffff00"/>
<use href="#o" x="378" y="195.5" fill="#ffff00"/>
<use href="#o" x="489" y="219.5" fill="#ffff00"/>
<use href="#o" x="450" y="213.5" fill="#ffff00"/>
<use href="#o" x="443" y="207.5" fill="#ffff00"/>
<use href="#o" x="556" y="203.5" fill="#ffff00"/>
<use href="#o" x="444" y="209.5" fill="#ffff00"/>
<use href="#o" x="359" y="206.5" fill="#ffff00"/>
<use href="#o" x="449" y="218.5" fill="#ffff00"/>
<use href="#o" x="483" y="221.5" fill="#ffff00"/>
<use href="#o" x="596" y="215.5" fill="#ffff00"/>
<use href="#o" x="464" y="210.5" fill="#ffff00"/>
<use href="#o" x="424" y="209.5" fill="#ffff00"/>
<use href="#o" x="591" y="210.5" fill="#ffff00"/>
<use href="#o" x="368" y="201.5" fill="#ffff00"/>
<use href="#o" x="452" y="212.5" fill="#ffff00"/>
<use href="#o" x="502" y="209.5" fill="#ffff00"/>
<use href="#o" x="578" y="203.5" fill="#ffff00"/>
<use href="#o" x="363" y="202.5" fill="#ffff00"/>
<use href="#o" x="360" y="209.5" fill="#ffff00"/>
<use href="#o" x="571" y="194.5" fill="#ffff00"/>
<use href="#o" x="559" y="202.5" fill="#ffff00"/>
<use href="#o" x="602" y="217.5" fill="#ffff00"/>
<use href="#o" x="542" y="205.5" fill="#ffff00"/>
<use href="#o" x="548" y="195.5" fill="#ffff00"/>
<use href="#o" x="459" y="226.5" fill="#ffff00"/>
<use href="#o" x="408" y="201.5" fill="#ffff00"/>
<use href="#o" x="459" y="211.5" fill="#ffff00"/>
<use href="#o" x="426" y="214.5" fill="#ffff00"/>
<use href="#o" x="520" y="220.5" fill="#ffff00"/>
<use href="#o" x="468" y="216.5" fill="#ffff00"/>
<use href="#o" x="373" y="197.5" fill="#ffff00"/>
<use href="#o" x="574" y="218.5" fill="#ffff00"/>
<use href="#o" x="403" y="214.5" fill="#ffff00"/>
<use href="#o" x="593" y="214.5" fill="#ffff00"/>
<use href="#o" x="503" y="219.5" fill="#ffff00"/>
<use href="#o" x="583" y="214.5" fill="#ffff00"/>
<use href="#o" x="587" y="215.5" fill="#ffff00"/>
<use href="#o" x="461" y="213.5" fill="#ffff00"/>
<use href="#o" x="421" y="207.5" fill="#ffff00"/>
<use href="#o" x="547" y="192.5" fill="#ffff00"/>
<use href="#o" x="392" y="199.5" fill="#ffff00"/>
<use href="#o" x="529" y="214.5" fill="#ffff00"/>
<use href="#o" x="377" y="215.5" fill="#ffff00"/>
<use href="#o" x="447" y="216.5" fill="#ffff00"/>
<use href="#o" x="446" y="201.5" fill="#ffff00"/>
<use href="#o" x="594" y="214.5" fill="#ffff00"/>
<use href="#o" x="414" y="200.5" fill="#ffff00"/>
<use href="#o" x="490" y="215.5" fill="#ffff00"/>
<use href="#o" x="536" y="216.5" fill="#ffff00"/>
<use href="#o" x="530" y="222.5" fill="#ffff00"/>
<use href="#o" x="357" y="205.5" fill="#ffff00"/>
<use href="#o" x="480" y="211.5" fill="#ffff00"/>
<use href="#o" x="506" y="218.5" fill="#ffff00"/>
<use href="#o" x="479" y="214.5" fill="#ffff00"/>
<use href="#o" x="364" y="205.5" fill="#ffff00"/>
<use href="#o" x="360" y="211.5" fill="#ffff00"/>
<use href="#o" x="428" y="202.5" fill="#ffff00"/>
<use href="#o" x="584" y="213.5" fill="#ffff00"/>
<use href="#o" x="446" y="200.5" fill="#ffff00"/>
<use href="#o" x="587" y="209.5" fill="#ffff00"/>
<use href="#o" x="590" y="216.5" fill="#ffff00"/>
<use href="#o" x="396" y="206.5" fill="#ffff00"/>
<use href="#o" x="586" y="217.5" fill="#ffff00"/>
<use href="#o" x="537" y="212.5" fill="#ffff00"/>
<use href="#o" x="486" y="208.5" fill="#ffff00"/>
<use href="#o" x="429" y="215.5" fill="#ffff00"/>
<use href="#o" x="491" y="217.5" fill="#ffff00"/>
<use href="#o" x="442" y="205.5" fill="#ffff00"/>
<use href="#o" x="477" y="212.5" fill="#ffff00"/>
<use href="#o" x="467" y="212.5" fill="#ffff00"/>
<use href="#o" x="369" y="214.5" fill="#ffff00"/>
<use href="#o" x="390" y="211.5" fill="#ffff00"/>
<use href="#o" x="594" y="213.5" fill="#ffff00"/>
<use href="#o" x="549" y="202.5" fill="#ffff00"/>
<use href="#o" x="538" y="206.5" fill="#ffff00"/>
<use href="#o" x="510" y="231.5" fill="#ffff00"/>
<use href="#o" x="451" y="207.5" fill="#ffff00"/>
<use href="#o" x="420" y="203.5" fill="#ffff00"/>
<use href="#o" x="572" y="186.5" fill="#ffff00"/>
<use href="#o" x="398" y="209.5" fill="#ffff00"/>
<use href="#o" x="389" y="218.5" fill="#ffff00"/>
<use href="#o" x="494" y="218.5" fill="#ffff00"/>
<use href="#o" x="357" y="215.5" fill="#ffff00"/>
<use href="#o" x="477" y="217.5" fill="#ffff00"/>
<use href="#o" x="571" y="215.5" fill="#ffff00"/>
<use href="#o" x="384" y="212.5" fill="#ffff00"/>
<use href="#o" x="533" y="205.5" fill="#ffff00"/>
<use href="#o" x="409" y="199.5" fill="#ffff00"/>
<use href="#o" x="590" y="213.5" fill="#ffff00"/>
<use href="#o" x="524" y="219.5" fill="#ffff00"/>
<use href="#o" x="378" y="214.5" fill="#ffff00"/>
<use href="#o" x="515" y="221.5" fill="#ffff00"/>
<use href="#o" x="576" y="207.5" fill="#ffff00"/>
<use href="#o" x="514" y="216.5" fill="#ffff00"/>
<use href="#o" x="564" y="209.5" fill="#ffff00"/>
<use href="#o" x="419" y="212.5" fill="#ffff00"/>
<use href="#o" x="429" y="216.5" fill="#ffff00"/>
<use href="#o" x="482" y="218.5" fill="#ffff00"/>
<use href="#o" x="578" y="205.5" fill="#ffff00"/>
<use href="#o" x="408" y="205.5" fill="#ffff00"/>
<use href="#o" x="420" y="209.5" fill="#ffff00"/>
<use href="#o" x="376" y="206.5" fill="#ffff00"/>
<use href="#o" x="442" y="212.5" fill="#ffff00"/>
<use href="#o" x="509" y="221.5" fill="#ffff00"/>
<use href="#o" x="516" y="219.5" fill="#ffff00"/>
<use href="#o" x="476" y="216.5" fill="#ffff00"/>
<use href="#o" x="525" y="209.5" fill="#ffff00"/>
<use href="#o" x="581" y="214.5" fill="#ffff00"/>
<use href="#o" x="390" y="208.5" fill="#ffff00"/>
<use href="#o" x="487" y="224.5" fill="#ffff00"/>
<use href="#o" x="578" y="199.5" fill="#ffff00"/>
<use href="#o" x="459" y="209.5" fill="#ffff00"/>
<use href="#o" x="549" y="200.5" fill="#ffff00"/>
<use href="#o" x="381" y="204.5" fill="#ffff00"/>
<use href="#o" x="419" y="198.5" fill="#ffff00"/>
<use href="#o" x="420" y="215.5" fill="#ffff00"/>
<use href="#o" x="511" y="208.5" fill="#ffff00"/>
<use href="#o" x="383" y="196.5" fill="#ffff00"/>
<use href="#o" x="545" y="198.5" fill="#ffff00"/>
<use href="#o" x="511" y="221.5" fill="#ffff00"/>
<use href="#o" x="564" y="200.5" fill="#ffff00"/>
<use href="#o" x="596" y="213.5" fill="#ffff00"/>
<use href="#o" x="450" y="204.5" fill="#ffff00"/>
<use href="#o" x="419" y="199.5" fill="#ffff00"/>
<use href="#o" x="456" y="210.5" fill="#ffff00"/>
<use href="#o" x="370" y="211.5" fill="#ffff00"/>
<use href="#o" x="532" y="201.5" fill="#ffff00"/>
<use href="#o" x="370" y="216.5" fill="#ffff00"/>
<use href="#o" x="429" y="213.5" fill="#ffff00"/>
<use href="#o" x="551" y="208.5" fill="#ffff00"/>
<use href="#o" x="577" y="205.5" fill="#ffff00"/>
<use href="#o" x="458" y="212.5" fill="#ffff00"/>
<use href="#o" x="411" y="211.5" fill="#ffff00"/>
<use href="#o" x="426" y="210.5" fill="#ffff00"/>
<use href="#o" x="381" y="195.5" fill="#ffff00"/>
<use href="#o" x="589" y="210.5" fill="#ffff00"/>
<use href="#o" x="470" y="221.5" fill="#ffff00"/>
<use href="#o" x="383" y="217.5" fill="#ffff00"/>
<use href="#o" x="488" y="229.5" fill="#ffff00"/>
<use href="#o" x="489" y="225.5" fill="#ffff00"/>
<use href="#o" x="463" y="212.5" fill="#ffff00"/>
<use href="#o" x="596" y="219.5" fill="#ffff00"/>
<use href="#o" x="461" y="214.5" fill="#ffff00"/>
<use href="#o" x="582" y="219.5" fill="#ffff00"/>
<use href="#o" x="449" y="201.5" fill="#ffff00"/>
<use href="#o" x="435" y="198.5" fill="#ffff00"/>
<use href="#o" x="556" y="192.5" fill="#ffff00"/>
<use href="#o" x="368" y="208.5" fill="#ffff00"/>
<use href="#o" x="587" y="204.5" fill="#ffff00"/>
<use href="#o" x="582" y="212.5" fill="#ffff00"/>
<use href="#o" x="497" y="210.5" fill="#ffff00"/>
<use href="#o" x="539" y="206.5" fill="#ffff00"/>
<use href="#o" x="418" y="195.5" fill="#ffff00"/>
<use href="#o" x="505" y="218.5" fill="#ffff00"/>
<use href="#o" x="388" y="212.5" fill="#ffff00"/>
<use href="#o" x="535" y="221.5" fill="#ffff00"/>
<use href="#o" x="380" y="212.5" fill="#ffff00"/>
<use href="#o" x="396" y="206.5" fill="#ffff00"/>
<use href="#o" x="377" y="199.5" fill="#ffff00"/>
<use href="#o" x="567" y="206.5" fill="#ffff00"/>
<use href="#o" x="395" y="206.5" fill="#ffff00"/>
<use href="#o" x="498" y="213.5" fill="#ffff00"/>
<use href="#o" x="417" y="203.5" fill="#ffff00"/>
<use href="#o" x="533" y="215.5" fill="#ffff00"/>
<use href="#o" x="385" y="210.5" fill="#ffff00"/>
<use href="#o" x="501" y="210.5" fill="#ffff00"/>
<use href="#o" x="513" y="207.5" fill="#ffff00"/>
<use href="#o" x="583" y="211.5" fill="#ffff00"/>
<use href="#o" x="424" y="205.5" fill="#ffff00"/>
<use href="#o" x="387" y="220.5" fill="#ffff00"/>
<use href="#o" x="459" y="198.5" fill="#ffff00"/>
<use href="#o" x="386" y="218.5" fill="#ffff00"/>
<use href="#o" x="517" y="218.5" fill="#ffff00"/>
<use href="#o" x="355" y="195.5" fill="#ffff00"/>
<use href="#o" x="589" y="207.5" fill="#ffff00"/>
<use href="#o" x="519" y="228.5" fill="#ffff00"/>
<use href="#o" x="459" y="217.5" fill="#ffff00"/>
<use href="#o" x="439" y="200.5" fill="#ffff00"/>
<use href="#o" x="536" y="199.5" fill="#ffff00"/>
<use href="#o" x="507" y="217.5" fill="#ffff00"/>
<use href="#o" x="552" y="199.5" fill="#ffff00"/>
<use href="#o" x="355" y="206.5" fill="#ffff00"/>
<use href="#o" x="551" y="198.5" fill="#ffff00"/>
<use href="#o" x="365" y="197.5" fill="#ffff00"/>
<use href="#o" x="487" y="215.5" fill="#ffff00"/>
<use href="#o" x="405" y="204.5" fill="#ffff00"/>
<use href="#o" x="596" y="216.5" fill="#ffff00"/>
<use href="#o" x="560" y="195.5" fill="#ffff00"/>
<use href="#o" x="516" y="212.5" fill="#ffff00"/>
<use href="#o" x="411" y="210.5" fill="#ffff00"/>
<use href="#o" x="422" y="214.5" fill="#ffff00"/>
<use href="#o" x="499" y="216.5" fill="#ffff00"/>
<use href="#o" x="539" y="198.5" fill="#ffff00"/>
<use href="#o" x="430" y="208.5" fill="#ffff00"/>
<use href="#o" x="537" y="202.5" fill="#ffff00"/>
<use href="#o" x="542" y="209.5" fill="#ffff00"/>
<use href="#o" x="465" y="212.5" fill="#ffff00"/>
<use href="#o" x="419" y="204.5" fill="#ffff00"/>
<use href="#o" x="563" y="202.5" fill="#ffff00"/>
<use href="#o" x="358" y="208.5" fill="#ffff00"/>
<use href="#o" x="544" y="206.5" fill="#ffff00"/>
<use href="#o" x="463" y="217.5" fill="#ffff00"/>
<use href="#o" x="554" y="189.5" fill="#ffff00"/>
<use href="#o" x="361" y="209.5" fill="#ffff00"/>
<use href="#o" x="552" y="196.5" fill="#ffff00"/>
<use href="#o" x="562" y="191.5" fill="#ffff00"/>
<use href="#o" x="507" y="214.5" fill="#ffff00"/>
<use href="#o" x="508" y="204.5" fill="#ffff00"/>
<use href="#o" x="360" y="219.5" fill="#ffff00"/>
<use href="#o" x="404" y="193.5" fill="#ffff00"/>
<use href="#o" x="371" y="207.5" fill="#ffff00"/>
<use href="#o" x="446" y="212.5" fill="#ffff00"/>
<use href="#o" x="377" y="208.5" fill="#ffff00"/>
<use href="#o" x="461" y="213.5" fill="#ffff00"/>
<use href="#o" x="429" y="208.5" fill="#ffff00"/>
<use href="#o" x="396" y="202.5" fill="#ffff00"/>
<use href="#o" x="591" y="218.5" fill="#ffff00"/>
<use href="#o" x="408" y="198.5" fill="#ffff00"/>
<use href="#o" x="454" y="205.5" fill="#ffff00"/>
<use href="#o" x="361" y="210.5" fill="#ffff00"/>
<use href="#o" x="468" y="214.5" fill="#ffff00"/>
<use href="#o" x="568" y="189.5" fill="#ffff00"/>
<use href="#o" x="524" y="219.5" fill="#ffff00"/>
<use href="#o" x="582" y="195.5" fill="#ffff00"/>
<use href="#o" x="551" y="189.5" fill="#ffff00"/>
<use href="#o" x="518" y="222.5" fill="#ffff00"/>
<use href="#o" x="573" y="203.5" fill="#ffff00"/>
<use href="#o" x="402" y="198.5" fill="#ffff00"/>
<use href="#o" x="436" y="207.5" fill="#ffff00"/>
<use href="#o" x="545" y="210.5" fill="#ffff00"/>
<use href="#o" x="402" y="194.5" fill="#ffff00"/>
<use href="#o" x="445" y="207.5" fill="#ffff00"/>
<use href="#o" x="378" y="203.5" fill="#ffff00"/>
<use href="#o" x="390" y="206.5" fill="#ffff00"/>
<use href="#o" x="356" y="193.5" fill="#ffff00"/>
<use href="#o" x="374" y="194.5" fill="#ffff00"/>
<use href="#o" x="382" y="196.5" fill="#ffff00"/>
<use href="#o" x="407" y="192.5" fill="#ffff00"/>
<use href="#o" x="418" y="193.5" fill="#ffff00"/>
<use href="#o" x="364" y="223.5" fill="#ffff00"/>
<use href="#o" x="383" y="230.5" fill="#ffff00"/>
<use href="#o" x="416" y="228.5" fill="#ffff00"/>
<use href="#o" x="420" y="228.5" fill="#ffff00"/>
<use href="#o" x="424" y="228.5" fill="#ffff00"/>
<use href="#o" x="551" y="178.5" fill="#ffff00"/>
<use href="#o" x="361" y="207.5" fill="#000"/>
<use href="#o" x="367" y="218.5" fill="#000"/>
<use href="#o" x="372" y="224.5" fill="#000"/>
<use href="#o" x="378" y="214.5" fill="#000"/>
<use href="#o" x="384" y="228.5" fill="#000"/>
<use href="#o" x="389" y="216.5" fill="#000"/>
<use href="#o" x="394" y="208.5" fill="#000"/>
<use href="#o" x="395" y="216.5" fill="#000"/>
<use href="#o" x="395" y="220.5" fill="#000"/>
<use href="#o" x="396" y="223.5" fill="#000"/>
<use href="#o" x="402" y="231.5" fill="#000"/>
<use href="#o" x="408" y="221.5" fill="#000"/>
<use href="#o" x="414" y="216.5" fill="#000"/>
<use href="#o" x="419" y="214.5" fill="#000"/>
<use href="#o" x="424" y="215.5" fill="#000"/>
<use href="#o" x="430" y="242.5" fill="#000"/>
<use href="#o" x="436" y="205.5" fill="#000"/>
<use href="#o" x="437" y="210.5" fill="#000"/>
<use href="#o" x="437" y="212.5" fill="#000"/>
<use href="#o" x="437" y="213.5" fill="#000"/>
<use href="#o" x="437" y="214.5" fill="#000"/>
<use href="#o" x="437" y="219.5" fill="#000"/>
<use href="#o" x="444" y="233.5" fill="#000"/>
<use href="#o" x="449" y="231.5" fill="#000"/>
<use href="#o" x="455" y="232.5" fill="#000"/>
<use href="#o" x="460" y="223.5" fill="#000"/>
<use href="#o" x="466" y="215.5" fill="#000"/>
<use href="#o" x="471" y="227.5" fill="#000"/>
<use href="#o" x="477" y="224.5" fill="#000"/>
<use href="#o" x="479" y="229.5" fill="#000"/>
<use href="#o" x="478" y="238.5" fill="#000"/>
<use href="#o" x="485" y="226.5" fill="#000"/>
<use href="#o" x="490" y="234.5" fill="#000"/>
<use href="#o" x="496" y="215.5" fill="#000"/>
<use href="#o" x="501" y="229.5" fill="#000"/>
<use href="#o" x="507" y="239.5" fill="#000"/>
<use href="#o" x="512" y="255.5" fill="#000"/>
<use href="#o" x="518" y="242.5" fill="#000"/>
<use href="#o" x="519" y="236.5" fill="#000"/>
<use href="#o" x="519" y="225.5" fill="#000"/>
<use href="#o" x="520" y="203.5" fill="#000"/>
<use href="#o" x="525" y="236.5" fill="#000"/>
<use href="#o" x="532" y="218.5" fill="#000"/>
<use href="#o" x="537" y="223.5" fill="#000"/>
<use href="#o" x="543" y="211.5" fill="#000"/>
<use href="#o" x="549" y="201.5" fill="#000"/>
<use href="#o" x="554" y="205.5" fill="#000"/>
<use href="#o" x="560" y="199.5" fill="#000"/>
<use href="#o" x="559" y="213.5" fill="#000"/>
<use href="#o" x="560" y="214.5" fill="#000"/>
<use href="#o" x="561" y="225.5" fill="#000"/>
<use href="#o" x="567" y="224.5" fill="#000"/>
<use href="#o" x="573" y="215.5" fill="#000"/>
<use href="#o" x="579" y="223.5" fill="#000"/>
<use href="#o" x="584" y="207.5" fill="#000"/>
<use href="#o" x="589" y="225.5" fill="#000"/>
<use href="#o" x="595" y="228.5" fill="#000"/>
<use href="#o" x="601" y="229.5" fill="#000"/>
<use href="#o" x="602" y="231.5" fill="#000"/>
<use href="#o" x="601" y="236.5" fill="#000"/>
<path d="M668.1 213.6 L910.4 213.6" fill="none" stroke="#0000ff" stroke-width="6.2" stroke-linecap="round" stroke-linejoin="round"/>
<use href="#o" x="673" y="210.5" fill="#000"/>
<use href="#o" x="679" y="211.5" fill="#000"/>
<use href="#o" x="684" y="211.5" fill="#000"/>
<use href="#o" x="690" y="210.5" fill="#000"/>
<use href="#o" x="696" y="210.5" fill="#000"/>
<use href="#o" x="702" y="211.5" fill="#000"/>
<use href="#o" x="706" y="210.5" fill="#000"/>
<use href="#o" x="709" y="211.5" fill="#000"/>
<use href="#o" x="714" y="209.5" fill="#000"/>
<use href="#o" x="720" y="211.5" fill="#000"/>
<use href="#o" x="726" y="209.5" fill="#000"/>
<use href="#o" x="731" y="210.5" fill="#000"/>
<use href="#o" x="737" y="210.5" fill="#000"/>
<use href="#o" x="743" y="211.5" fill="#000"/>
<use href="#o" x="748" y="210.5" fill="#000"/>
<use href="#o" x="750" y="210.5" fill="#000"/>
<use href="#o" x="755" y="210.5" fill="#000"/>
<use href="#o" x="761" y="211.5" fill="#000"/>
<use href="#o" x="767" y="211.5" fill="#000"/>
<use href="#o" x="773" y="210.5" fill="#000"/>
<use href="#o" x="778" y="210.5" fill="#000"/>
<use href="#o" x="784" y="210.5" fill="#000"/>
<use href="#o" x="789" y="210.5" fill="#000"/>
<use href="#o" x="791" y="210.5" fill="#000"/>
<use href="#o" x="797" y="211.5" fill="#000"/>
<use href="#o" x="802" y="210.5" fill="#000"/>
<use href="#o" x="808" y="209.5" fill="#000"/>
<use href="#o" x="814" y="209.5" fill="#000"/>
<use href="#o" x="820" y="210.5" fill="#000"/>
<use href="#o" x="825" y="211.5" fill="#000"/>
<use href="#o" x="830" y="209.5" fill="#000"/>
<use href="#o" x="832" y="210.5" fill="#000"/>
<use href="#o" x="838" y="209.5" fill="#000"/>
<use href="#o" x="843" y="210.5" fill="#000"/>
<use href="#o" x="849" y="210.5" fill="#000"/>
<use href="#o" x="855" y="211.5" fill="#000"/>
<use href="#o" x="861" y="210.5" fill="#000"/>
<use href="#o" x="867" y="210.5" fill="#000"/>
<use href="#o" x="871" y="210.5" fill="#000"/>
<use href="#o" x="873" y="211.5" fill="#000"/>
<use href="#o" x="879" y="210.5" fill="#000"/>
<use href="#o" x="885" y="210.5" fill="#000"/>
<use href="#o" x="890" y="210.5" fill="#000"/>
<use href="#o" x="896" y="209.5" fill="#000"/>
<use href="#o" x="902" y="209.5" fill="#000"/>
<use href="#o" x="908" y="210.5" fill="#000"/>
<use href="#o" x="912" y="210.5" fill="#000"/>
<use href="#o" x="915" y="210.5" fill="#000"/>
<path d="M44.1 332.7 L226.0 332.6 L230.0 333.5 L287.4 333.5" fill="none" stroke="#00ffff" stroke-width="6.3" stroke-linecap="round" stroke-linejoin="round"/>
<use href="#o" x="85" y="338.5" fill="#00ffff"/>
<use href="#o" x="167" y="338.5" fill="#00ffff"/>
<use href="#o" x="249" y="339.5" fill="#00ffff"/>
<path d="M44.8 370.5 L287.7 370.5" fill="none" stroke="#00ffff" stroke-width="5.6" stroke-linecap="round" stroke-linejoin="round"/>
<use href="#o" x="49" y="369.5" fill="#000"/>
<use href="#o" x="55" y="369.5" fill="#000"/>
<use href="#o" x="60" y="369.5" fill="#000"/>
<use href="#o" x="66" y="369.5" fill="#000"/>
<use href="#o" x="72" y="369.5" fill="#000"/>
<use href="#o" x="78" y="369.5" fill="#000"/>
<use href="#o" x="82" y="369.5" fill="#000"/>
<use href="#o" x="85" y="369.5" fill="#000"/>
<use href="#o" x="90" y="369.5" fill="#000"/>
<use href="#o" x="96" y="369.5" fill="#000"/>
<use href="#o" x="102" y="369.5" fill="#000"/>
<use href="#o" x="107" y="369.5" fill="#000"/>
<use href="#o" x="113" y="369.5" fill="#000"/>
<use href="#o" x="119" y="369.5" fill="#000"/>
<use href="#o" x="124" y="369.5" fill="#000"/>
<use href="#o" x="126" y="369.5" fill="#000"/>
<use href="#o" x="131" y="369.5" fill="#000"/>
<use href="#o" x="137" y="369.5" fill="#000"/>
<use href="#o" x="143" y="369.5" fill="#000"/>
<use href="#o" x="149" y="369.5" fill="#000"/>
<use href="#o" x="154" y="369.5" fill="#000"/>
<use href="#o" x="160" y="369.5" fill="#000"/>
<use href="#o" x="165" y="369.5" fill="#000"/>
<use href="#o" x="167" y="369.5" fill="#000"/>
<use href="#o" x="173" y="369.5" fill="#000"/>
<use href="#o" x="178" y="369.5" fill="#000"/>
<use href="#o" x="184" y="369.5" fill="#000"/>
<use href="#o" x="190" y="369.5" fill="#000"/>
<use href="#o" x="196" y="369.5" fill="#000"/>
<use href="#o" x="201" y="369.5" fill="#000"/>
<use href="#o" x="206" y="369.5" fill="#000"/>
<use href="#o" x="208" y="369.5" fill="#000"/>
<use href="#o" x="214" y="369.5" fill="#000"/>
<use href="#o" x="219" y="369.5" fill="#000"/>
<use href="#o" x="225" y="369.5" fill="#000"/>
<use href="#o" x="231" y="369.5" fill="#000"/>
<use href="#o" x="237" y="369.5" fill="#000"/>
<use href="#o" x="243" y="369.5" fill="#000"/>
<use href="#o" x="247" y="369.5" fill="#000"/>
<use href="#o" x="249" y="369.5" fill="#000"/>
<use href="#o" x="255" y="369.5" fill="#000"/>
<use href="#o" x="261" y="369.5" fill="#000"/>
<use href="#o" x="266" y="369.5" fill="#000"/>
<use href="#o" x="272" y="369.5" fill="#000"/>
<use href="#o" x="278" y="369.5" fill="#000"/>
<use href="#o" x="284" y="369.5" fill="#000"/>
<use href="#o" x="288" y="369.5" fill="#000"/>
<use href="#o" x="291" y="369.5" fill="#000"/>
<path d="M356.2 340.4 L599.8 340.4" fill="none" stroke="#00ffff" stroke-width="6.4" stroke-linecap="round" stroke-linejoin="round"/>
<path d="M356.9 370.8 L599.6 370.8" fill="none" stroke="#00ffff" stroke-width="5.8" stroke-linecap="round" stroke-linejoin="round"/>
<use href="#o" x="397" y="345.5" fill="#00ffff"/>
<use href="#o" x="479" y="345.5" fill="#00ffff"/>
<use href="#o" x="561" y="345.5" fill="#00ffff"/>
<use href="#o" x="361" y="340.5" fill="#000"/>
<use href="#o" x="367" y="340.5" fill="#000"/>
<use href="#o" x="372" y="340.5" fill="#000"/>
<use href="#o" x="378" y="340.5" fill="#000"/>
<use href="#o" x="384" y="340.5" fill="#000"/>
<use href="#o" x="390" y="340.5" fill="#000"/>
<use href="#o" x="394" y="340.5" fill="#000"/>
<use href="#o" x="397" y="340.5" fill="#000"/>
<use href="#o" x="402" y="340.5" fill="#000"/>
<use href="#o" x="408" y="340.5" fill="#000"/>
<use href="#o" x="414" y="340.5" fill="#000"/>
<use href="#o" x="419" y="340.5" fill="#000"/>
<use href="#o" x="425" y="340.5" fill="#000"/>
<use href="#o" x="431" y="340.5" fill="#000"/>
<use href="#o" x="436" y="340.5" fill="#000"/>
<use href="#o" x="438" y="340.5" fill="#000"/>
<use href="#o" x="443" y="340.5" fill="#000"/>
<use href="#o" x="449" y="340.5" fill="#000"/>
<use href="#o" x="455" y="340.5" fill="#000"/>
<use href="#o" x="461" y="340.5" fill="#000"/>
<use href="#o" x="466" y="340.5" fill="#000"/>
<use href="#o" x="472" y="340.5" fill="#000"/>
<use href="#o" x="477" y="340.5" fill="#000"/>
<use href="#o" x="479" y="340.5" fill="#000"/>
<use href="#o" x="485" y="340.5" fill="#000"/>
<use href="#o" x="490" y="340.5" fill="#000"/>
<use href="#o" x="496" y="340.5" fill="#000"/>
<use href="#o" x="502" y="340.5" fill="#000"/>
<use href="#o" x="508" y="340.5" fill="#000"/>
<use href="#o" x="513" y="340.5" fill="#000"/>
<use href="#o" x="518" y="340.5" fill="#000"/>
<use href="#o" x="520" y="340.5" fill="#000"/>
<use href="#o" x="526" y="340.5" fill="#000"/>
<use href="#o" x="531" y="340.5" fill="#000"/>
<use href="#o" x="537" y="340.5" fill="#000"/>
<use href="#o" x="543" y="340.5" fill="#000"/>
<use href="#o" x="549" y="340.5" fill="#000"/>
<use href="#o" x="555" y="340.5" fill="#000"/>
<use href="#o" x="559" y="340.5" fill="#000"/>
<use href="#o" x="561" y="340.5" fill="#000"/>
<use href="#o" x="567" y="340.5" fill="#000"/>
<use href="#o" x="573" y="340.5" fill="#000"/>
<use href="#o" x="578" y="340.5" fill="#000"/>
<use href="#o" x="584" y="340.5" fill="#000"/>
<use href="#o" x="590" y="340.5" fill="#000"/>
<use href="#o" x="596" y="340.5" fill="#000"/>
<use href="#o" x="600" y="340.5" fill="#000"/>
<use href="#o" x="603" y="340.5" fill="#000"/>
<path d="M668.4 330.3 L912.1 330.3" fill="none" stroke="#00ffff" stroke-width="5.8" stroke-linecap="round" stroke-linejoin="round"/>
<path d="M667.9 370.7 L911.1 370.7" fill="none" stroke="#00ffff" stroke-width="5.8" stroke-linecap="round" stroke-linejoin="round"/>
<use href="#o" x="709" y="335.5" fill="#00ffff"/>
<use href="#o" x="791" y="336.5" fill="#00ffff"/>
<use href="#o" x="874" y="337.5" fill="#00ffff"/>
<use href="#o" x="673" y="330.5" fill="#000"/>
<use href="#o" x="679" y="330.5" fill="#000"/>
<use href="#o" x="684" y="330.5" fill="#000"/>
<use href="#o" x="690" y="330.5" fill="#000"/>
<use href="#o" x="696" y="330.5" fill="#000"/>
<use href="#o" x="702" y="330.5" fill="#000"/>
<use href="#o" x="706" y="330.5" fill="#000"/>
<use href="#o" x="709" y="330.5" fill="#000"/>
<use href="#o" x="714" y="330.5" fill="#000"/>
<use href="#o" x="720" y="330.5" fill="#000"/>
<use href="#o" x="726" y="330.5" fill="#000"/>
<use href="#o" x="731" y="330.5" fill="#000"/>
<use href="#o" x="737" y="330.5" fill="#000"/>
<use href="#o" x="743" y="330.5" fill="#000"/>
<use href="#o" x="748" y="330.5" fill="#000"/>
<use href="#o" x="750" y="330.5" fill="#000"/>
<use href="#o" x="755" y="330.5" fill="#000"/>
<use href="#o" x="761" y="330.5" fill="#000"/>
<use href="#o" x="767" y="330.5" fill="#000"/>
<use href="#o" x="773" y="330.5" fill="#000"/>
<use href="#o" x="778" y="330.5" fill="#000"/>
<use href="#o" x="784" y="330.5" fill="#000"/>
<use href="#o" x="789" y="330.5" fill="#000"/>
<use href="#o" x="791" y="330.5" fill="#000"/>
<use href="#o" x="797" y="330.5" fill="#000"/>
<use href="#o" x="802" y="330.5" fill="#000"/>
<use href="#o" x="808" y="330.5" fill="#000"/>
<use href="#o" x="814" y="330.5" fill="#000"/>
<use href="#o" x="820" y="330.5" fill="#000"/>
<use href="#o" x="825" y="330.5" fill="#000"/>
<use href="#o" x="830" y="330.5" fill="#000"/>
<use href="#o" x="832" y="330.5" fill="#000"/>
<use href="#o" x="838" y="330.5" fill="#000"/>
<use href="#o" x="843" y="330.5" fill="#000"/>
<use href="#o" x="849" y="330.5" fill="#000"/>
<use href="#o" x="855" y="330.5" fill="#000"/>
<use href="#o" x="861" y="330.5" fill="#000"/>
<use href="#o" x="867" y="330.5" fill="#000"/>
<use href="#o" x="871" y="330.5" fill="#000"/>
<use href="#o" x="873" y="330.5" fill="#000"/>
<use href="#o" x="879" y="330.5" fill="#000"/>
<use href="#o" x="885" y="330.5" fill="#000"/>
<use href="#o" x="890" y="330.5" fill="#000"/>
<use href="#o" x="896" y="330.5" fill="#000"/>
<use href="#o" x="902" y="330.5" fill="#000"/>
<use href="#o" x="908" y="330.5" fill="#000"/>
<use href="#o" x="912" y="330.5" fill="#000"/>
<use href="#o" x="915" y="330.5" fill="#000"/>
<path d="M43.9 506.2 L287.6 506.2" fill="none" stroke="#00ffff" stroke-width="5.8" stroke-linecap="round" stroke-linejoin="round"/>
<use href="#o" x="84" y="500.5" fill="#00ffff"/>
<use href="#o" x="166" y="500.5" fill="#00ffff"/>
<use href="#o" x="249" y="500.5" fill="#00ffff"/>
<use href="#o" x="49" y="506.5" fill="#000"/>
<use href="#o" x="55" y="506.5" fill="#000"/>
<use href="#o" x="60" y="506.5" fill="#000"/>
<use href="#o" x="66" y="506.5" fill="#000"/>
<use href="#o" x="72" y="506.5" fill="#000"/>
<use href="#o" x="78" y="506.5" fill="#000"/>
<use href="#o" x="82" y="506.5" fill="#000"/>
<use href="#o" x="85" y="506.5" fill="#000"/>
<use href="#o" x="90" y="506.5" fill="#000"/>
<use href="#o" x="96" y="506.5" fill="#000"/>
<use href="#o" x="102" y="506.5" fill="#000"/>
<use href="#o" x="107" y="506.5" fill="#000"/>
<use href="#o" x="113" y="506.5" fill="#000"/>
<use href="#o" x="119" y="506.5" fill="#000"/>
<use href="#o" x="124" y="506.5" fill="#000"/>
<use href="#o" x="126" y="506.5" fill="#000"/>
<use href="#o" x="131" y="506.5" fill="#000"/>
<use href="#o" x="137" y="506.5" fill="#000"/>
<use href="#o" x="143" y="506.5" fill="#000"/>
<use href="#o" x="149" y="506.5" fill="#000"/>
<use href="#o" x="154" y="506.5" fill="#000"/>
<use href="#o" x="160" y="506.5" fill="#000"/>
<use href="#o" x="165" y="506.5" fill="#000"/>
<use href="#o" x="167" y="506.5" fill="#000"/>
<use href="#o" x="173" y="506.5" fill="#000"/>
<use href="#o" x="178" y="506.5" fill="#000"/>
<use href="#o" x="184" y="506.5" fill="#000"/>
<use href="#o" x="190" y="506.5" fill="#000"/>
<use href="#o" x="196" y="506.5" fill="#000"/>
<use href="#o" x="201" y="506.5" fill="#000"/>
<use href="#o" x="206" y="506.5" fill="#000"/>
<use href="#o" x="208" y="506.5" fill="#000"/>
<use href="#o" x="214" y="506.5" fill="#000"/>
<use href="#o" x="219" y="506.5" fill="#000"/>
<use href="#o" x="225" y="506.5" fill="#000"/>
<use href="#o" x="231" y="506.5" fill="#000"/>
<use href="#o" x="237" y="506.5" fill="#000"/>
<use href="#o" x="243" y="506.5" fill="#000"/>
<use href="#o" x="247" y="506.5" fill="#000"/>
<use href="#o" x="249" y="506.5" fill="#000"/>
<use href="#o" x="255" y="506.5" fill="#000"/>
<use href="#o" x="261" y="506.5" fill="#000"/>
<use href="#o" x="266" y="506.5" fill="#000"/>
<use href="#o" x="272" y="506.5" fill="#000"/>
<use href="#o" x="278" y="506.5" fill="#000"/>
<use href="#o" x="284" y="506.5" fill="#000"/>
<use href="#o" x="288" y="506.5" fill="#000"/>
<use href="#o" x="291" y="506.5" fill="#000"/>
<g>
<text transform="translate(43.4,147.9) scale(1,0.86)" class="tk" text-anchor="middle">10.0</text>
<text transform="translate(93.0,147.9) scale(1,0.86)" class="tk" text-anchor="middle">10.2</text>
<text transform="translate(142.6,147.9) scale(1,0.86)" class="tk" text-anchor="middle">10.4</text>
<text transform="translate(192.2,147.9) scale(1,0.86)" class="tk" text-anchor="middle">10.6</text>
<text transform="translate(241.8,147.9) scale(1,0.86)" class="tk" text-anchor="middle">10.8</text>
<text transform="translate(291.4,147.9) scale(1,0.86)" class="tk" text-anchor="middle">11.0</text>
<text transform="translate(21.4,118.3) rotate(-90) scale(1,0.86)" class="tk" text-anchor="middle">360</text>
<text transform="translate(21.4,92.2) rotate(-90) scale(1,0.86)" class="tk" text-anchor="middle">400</text>
<text transform="translate(21.4,66.1) rotate(-90) scale(1,0.86)" class="tk" text-anchor="middle">440</text>
<text transform="translate(9.4,87.0) rotate(-90) scale(1,0.86)" class="lb" text-anchor="middle">Licor ppm</text>
<text x="167.0" y="37.6" class="ti" text-anchor="middle">Li–820 CO2</text>
<text transform="translate(355.4,147.9) scale(1,0.86)" class="tk" text-anchor="middle">10.0</text>
<text transform="translate(405.0,147.9) scale(1,0.86)" class="tk" text-anchor="middle">10.2</text>
<text transform="translate(454.6,147.9) scale(1,0.86)" class="tk" text-anchor="middle">10.4</text>
<text transform="translate(504.2,147.9) scale(1,0.86)" class="tk" text-anchor="middle">10.6</text>
<text transform="translate(553.8,147.9) scale(1,0.86)" class="tk" text-anchor="middle">10.8</text>
<text transform="translate(603.4,147.9) scale(1,0.86)" class="tk" text-anchor="middle">11.0</text>
<text transform="translate(333.4,126.3) rotate(-90) scale(1,0.86)" class="tk" text-anchor="middle">68.2</text>
<text transform="translate(333.4,88.8) rotate(-90) scale(1,0.86)" class="tk" text-anchor="middle">68.6</text>
<text transform="translate(333.4,51.4) rotate(-90) scale(1,0.86)" class="tk" text-anchor="middle">69.0</text>
<text transform="translate(321.4,87.0) rotate(-90) scale(1,0.86)" class="lb" text-anchor="middle">kPa</text>
<text x="479.0" y="37.6" class="ti" text-anchor="middle">Li–820 Pressure</text>
<text transform="translate(667.4,147.9) scale(1,0.86)" class="tk" text-anchor="middle">10.0</text>
<text transform="translate(717.0,147.9) scale(1,0.86)" class="tk" text-anchor="middle">10.2</text>
<text transform="translate(766.6,147.9) scale(1,0.86)" class="tk" text-anchor="middle">10.4</text>
<text transform="translate(816.2,147.9) scale(1,0.86)" class="tk" text-anchor="middle">10.6</text>
<text transform="translate(865.8,147.9) scale(1,0.86)" class="tk" text-anchor="middle">10.8</text>
<text transform="translate(915.4,147.9) scale(1,0.86)" class="tk" text-anchor="middle">11.0</text>
<text transform="translate(645.4,125.7) rotate(-90) scale(1,0.86)" class="tk" text-anchor="middle">51.9470</text>
<text transform="translate(645.4,77.5) rotate(-90) scale(1,0.86)" class="tk" text-anchor="middle">51.9490</text>
<text transform="translate(633.4,87.0) rotate(-90) scale(1,0.86)" class="lb" text-anchor="middle">degrees C</text>
<text x="791.0" y="37.6" class="ti" text-anchor="middle">Li–820 Temperature</text>
<text transform="translate(43.4,276.9) scale(1,0.86)" class="tk" text-anchor="middle">10.0</text>
<text transform="translate(93.0,276.9) scale(1,0.86)" class="tk" text-anchor="middle">10.2</text>
<text transform="translate(142.6,276.9) scale(1,0.86)" class="tk" text-anchor="middle">10.4</text>
<text transform="translate(192.2,276.9) scale(1,0.86)" class="tk" text-anchor="middle">10.6</text>
<text transform="translate(241.8,276.9) scale(1,0.86)" class="tk" text-anchor="middle">10.8</text>
<text transform="translate(291.4,276.9) scale(1,0.86)" class="tk" text-anchor="middle">11.0</text>
<text transform="translate(21.4,254.8) rotate(-90) scale(1,0.86)" class="tk" text-anchor="middle">17.0</text>
<text transform="translate(21.4,221.5) rotate(-90) scale(1,0.86)" class="tk" text-anchor="middle">18.5</text>
<text transform="translate(21.4,188.3) rotate(-90) scale(1,0.86)" class="tk" text-anchor="middle">20.0</text>
<text transform="translate(9.4,216.0) rotate(-90) scale(1,0.86)" class="lb" text-anchor="middle">degrees C</text>
<text x="167.0" y="166.6" class="ti" text-anchor="middle">Ambient Box Temperature</text>
<text transform="translate(355.4,276.9) scale(1,0.86)" class="tk" text-anchor="middle">10.0</text>
<text transform="translate(405.0,276.9) scale(1,0.86)" class="tk" text-anchor="middle">10.2</text>
<text transform="translate(454.6,276.9) scale(1,0.86)" class="tk" text-anchor="middle">10.4</text>
<text transform="translate(504.2,276.9) scale(1,0.86)" class="tk" text-anchor="middle">10.6</text>
<text transform="translate(553.8,276.9) scale(1,0.86)" class="tk" text-anchor="middle">10.8</text>
<text transform="translate(603.4,276.9) scale(1,0.86)" class="tk" text-anchor="middle">11.0</text>
<text transform="translate(333.4,250.2) rotate(-90) scale(1,0.86)" class="tk" text-anchor="middle">1.62</text>
<text transform="translate(333.4,219.3) rotate(-90) scale(1,0.86)" class="tk" text-anchor="middle">1.66</text>
<text transform="translate(333.4,188.5) rotate(-90) scale(1,0.86)" class="tk" text-anchor="middle">1.70</text>
<text transform="translate(321.4,216.0) rotate(-90) scale(1,0.86)" class="lb" text-anchor="middle">percent</text>
<text x="479.0" y="166.6" class="ti" text-anchor="middle">Gas Stream RH</text>
<text transform="translate(667.4,276.9) scale(1,0.86)" class="tk" text-anchor="middle">10.0</text>
<text transform="translate(717.0,276.9) scale(1,0.86)" class="tk" text-anchor="middle">10.2</text>
<text transform="translate(766.6,276.9) scale(1,0.86)" class="tk" text-anchor="middle">10.4</text>
<text transform="translate(816.2,276.9) scale(1,0.86)" class="tk" text-anchor="middle">10.6</text>
<text transform="translate(865.8,276.9) scale(1,0.86)" class="tk" text-anchor="middle">10.8</text>
<text transform="translate(915.4,276.9) scale(1,0.86)" class="tk" text-anchor="middle">11.0</text>
<text transform="translate(645.4,246.5) rotate(-90) scale(1,0.86)" class="tk" text-anchor="middle">0</text>
<text transform="translate(645.4,229.2) rotate(-90) scale(1,0.86)" class="tk" text-anchor="middle">50</text>
<text transform="translate(645.4,194.4) rotate(-90) scale(1,0.86)" class="tk" text-anchor="middle">150</text>
<text transform="translate(633.4,216.0) rotate(-90) scale(1,0.86)" class="lb" text-anchor="middle">ml/min</text>
<text x="791.0" y="166.6" class="ti" text-anchor="middle">Sample Flow</text>
<text transform="translate(43.4,406.9) scale(1,0.86)" class="tk" text-anchor="middle">10.0</text>
<text transform="translate(93.0,406.9) scale(1,0.86)" class="tk" text-anchor="middle">10.2</text>
<text transform="translate(142.6,406.9) scale(1,0.86)" class="tk" text-anchor="middle">10.4</text>
<text transform="translate(192.2,406.9) scale(1,0.86)" class="tk" text-anchor="middle">10.6</text>
<text transform="translate(241.8,406.9) scale(1,0.86)" class="tk" text-anchor="middle">10.8</text>
<text transform="translate(291.4,406.9) scale(1,0.86)" class="tk" text-anchor="middle">11.0</text>
<text transform="translate(21.4,377.5) rotate(-90) scale(1,0.86)" class="tk" text-anchor="middle">0</text>
<text transform="translate(21.4,349.3) rotate(-90) scale(1,0.86)" class="tk" text-anchor="middle">400</text>
<text transform="translate(21.4,321.2) rotate(-90) scale(1,0.86)" class="tk" text-anchor="middle">800</text>
<text transform="translate(9.4,346.0) rotate(-90) scale(1,0.86)" class="lb" text-anchor="middle">ml/min</text>
<text x="167.0" y="296.6" class="ti" text-anchor="middle">Line 1 Flow</text>
<text transform="translate(355.4,406.9) scale(1,0.86)" class="tk" text-anchor="middle">10.0</text>
<text transform="translate(405.0,406.9) scale(1,0.86)" class="tk" text-anchor="middle">10.2</text>
<text transform="translate(454.6,406.9) scale(1,0.86)" class="tk" text-anchor="middle">10.4</text>
<text transform="translate(504.2,406.9) scale(1,0.86)" class="tk" text-anchor="middle">10.6</text>
<text transform="translate(553.8,406.9) scale(1,0.86)" class="tk" text-anchor="middle">10.8</text>
<text transform="translate(603.4,406.9) scale(1,0.86)" class="tk" text-anchor="middle">11.0</text>
<text transform="translate(333.4,377.5) rotate(-90) scale(1,0.86)" class="tk" text-anchor="middle">0</text>
<text transform="translate(333.4,349.3) rotate(-90) scale(1,0.86)" class="tk" text-anchor="middle">400</text>
<text transform="translate(333.4,321.2) rotate(-90) scale(1,0.86)" class="tk" text-anchor="middle">800</text>
<text transform="translate(321.4,346.0) rotate(-90) scale(1,0.86)" class="lb" text-anchor="middle">ml/min</text>
<text x="479.0" y="296.6" class="ti" text-anchor="middle">Line 2 Flow</text>
<text transform="translate(667.4,406.9) scale(1,0.86)" class="tk" text-anchor="middle">10.0</text>
<text transform="translate(717.0,406.9) scale(1,0.86)" class="tk" text-anchor="middle">10.2</text>
<text transform="translate(766.6,406.9) scale(1,0.86)" class="tk" text-anchor="middle">10.4</text>
<text transform="translate(816.2,406.9) scale(1,0.86)" class="tk" text-anchor="middle">10.6</text>
<text transform="translate(865.8,406.9) scale(1,0.86)" class="tk" text-anchor="middle">10.8</text>
<text transform="translate(915.4,406.9) scale(1,0.86)" class="tk" text-anchor="middle">11.0</text>
<text transform="translate(645.4,377.5) rotate(-90) scale(1,0.86)" class="tk" text-anchor="middle">0</text>
<text transform="translate(645.4,349.3) rotate(-90) scale(1,0.86)" class="tk" text-anchor="middle">400</text>
<text transform="translate(645.4,321.2) rotate(-90) scale(1,0.86)" class="tk" text-anchor="middle">800</text>
<text transform="translate(633.4,346.0) rotate(-90) scale(1,0.86)" class="lb" text-anchor="middle">ml/min</text>
<text x="791.0" y="296.6" class="ti" text-anchor="middle">Line 3 Flow</text>
<text transform="translate(43.4,535.9) scale(1,0.86)" class="tk" text-anchor="middle">10.0</text>
<text transform="translate(93.0,535.9) scale(1,0.86)" class="tk" text-anchor="middle">10.2</text>
<text transform="translate(142.6,535.9) scale(1,0.86)" class="tk" text-anchor="middle">10.4</text>
<text transform="translate(192.2,535.9) scale(1,0.86)" class="tk" text-anchor="middle">10.6</text>
<text transform="translate(241.8,535.9) scale(1,0.86)" class="tk" text-anchor="middle">10.8</text>
<text transform="translate(291.4,535.9) scale(1,0.86)" class="tk" text-anchor="middle">11.0</text>
<text transform="translate(21.4,506.5) rotate(-90) scale(1,0.86)" class="tk" text-anchor="middle">0</text>
<text transform="translate(21.4,478.3) rotate(-90) scale(1,0.86)" class="tk" text-anchor="middle">400</text>
<text transform="translate(21.4,450.2) rotate(-90) scale(1,0.86)" class="tk" text-anchor="middle">800</text>
<text transform="translate(9.4,475.0) rotate(-90) scale(1,0.86)" class="lb" text-anchor="middle">ml/min</text>
<text x="167.0" y="425.6" class="ti" text-anchor="middle">Line 4 (LT) Flow</text>
<text x="468" y="13.8" class="mt" text-anchor="middle" xml:space="preserve">SPL_071210&#160; 2.5 Min. Ave. Diagnostics</text>
</g>
<path d="M33.0 45.5H301.0M33.0 128.5H301.0M34.5 45.0V129.0M299.5 45.0V129.0" class="ln"/>
<path d="M43.5 128.5V134.5M93.5 128.5V134.5M142.5 128.5V134.5M192.5 128.5V134.5M241.5 128.5V134.5M291.5 128.5V134.5" class="ln"/>
<rect x="178" y="151" width="1" height="1" fill="#000"/>
<path d="M28.5 118.5H34.5M28.5 105.5H34.5M28.5 92.5H34.5M28.5 79.5H34.5M28.5 66.5H34.5M28.5 53.5H34.5" class="ln"/>
<path d="M345.0 45.5H613.0M345.0 128.5H613.0M346.5 45.0V129.0M611.5 45.0V129.0" class="ln"/>
<path d="M355.5 128.5V134.5M405.5 128.5V134.5M454.5 128.5V134.5M504.5 128.5V134.5M553.5 128.5V134.5M603.5 128.5V134.5" class="ln"/>
<rect x="490" y="151" width="1" height="1" fill="#000"/>
<path d="M340.5 126.5H346.5M340.5 107.5H346.5M340.5 88.5H346.5M340.5 70.5H346.5M340.5 51.5H346.5" class="ln"/>
<path d="M657.0 45.5H925.0M657.0 128.5H925.0M658.5 45.0V129.0M923.5 45.0V129.0" class="ln"/>
<path d="M667.5 128.5V134.5M717.5 128.5V134.5M766.5 128.5V134.5M816.5 128.5V134.5M865.5 128.5V134.5M915.5 128.5V134.5" class="ln"/>
<rect x="802" y="151" width="1" height="1" fill="#000"/>
<path d="M652.5 125.5H658.5M652.5 113.5H658.5M652.5 101.5H658.5M652.5 89.5H658.5M652.5 77.5H658.5M652.5 65.5H658.5M652.5 53.5H658.5" class="ln"/>
<path d="M33.0 174.5H301.0M33.0 257.5H301.0M34.5 174.0V258.0M299.5 174.0V258.0" class="ln"/>
<path d="M43.5 257.5V263.5M93.5 257.5V263.5M142.5 257.5V263.5M192.5 257.5V263.5M241.5 257.5V263.5M291.5 257.5V263.5" class="ln"/>
<rect x="178" y="280" width="1" height="1" fill="#000"/>
<path d="M28.5 254.5H34.5M28.5 243.5H34.5M28.5 232.5H34.5M28.5 221.5H34.5M28.5 210.5H34.5M28.5 199.5H34.5M28.5 188.5H34.5M28.5 177.5H34.5" class="ln"/>
<path d="M345.0 174.5H613.0M345.0 257.5H613.0M346.5 174.0V258.0M611.5 174.0V258.0" class="ln"/>
<path d="M355.5 257.5V263.5M405.5 257.5V263.5M454.5 257.5V263.5M504.5 257.5V263.5M553.5 257.5V263.5M603.5 257.5V263.5" class="ln"/>
<rect x="490" y="280" width="1" height="1" fill="#000"/>
<path d="M340.5 250.5H346.5M340.5 234.5H346.5M340.5 219.5H346.5M340.5 203.5H346.5M340.5 188.5H346.5" class="ln"/>
<path d="M657.0 174.5H925.0M657.0 257.5H925.0M658.5 174.0V258.0M923.5 174.0V258.0" class="ln"/>
<path d="M667.5 257.5V263.5M717.5 257.5V263.5M766.5 257.5V263.5M816.5 257.5V263.5M865.5 257.5V263.5M915.5 257.5V263.5" class="ln"/>
<rect x="802" y="280" width="1" height="1" fill="#000"/>
<path d="M652.5 246.5H658.5M652.5 229.5H658.5M652.5 211.5H658.5M652.5 194.5H658.5M652.5 177.5H658.5" class="ln"/>
<path d="M33.0 304.5H301.0M33.0 387.5H301.0M34.5 304.0V388.0M299.5 304.0V388.0" class="ln"/>
<path d="M43.5 387.5V393.5M93.5 387.5V393.5M142.5 387.5V393.5M192.5 387.5V393.5M241.5 387.5V393.5M291.5 387.5V393.5" class="ln"/>
<rect x="178" y="410" width="1" height="1" fill="#000"/>
<path d="M28.5 377.5H34.5M28.5 363.5H34.5M28.5 349.5H34.5M28.5 335.5H34.5M28.5 321.5H34.5M28.5 307.5H34.5" class="ln"/>
<path d="M345.0 304.5H613.0M345.0 387.5H613.0M346.5 304.0V388.0M611.5 304.0V388.0" class="ln"/>
<path d="M355.5 387.5V393.5M405.5 387.5V393.5M454.5 387.5V393.5M504.5 387.5V393.5M553.5 387.5V393.5M603.5 387.5V393.5" class="ln"/>
<rect x="490" y="410" width="1" height="1" fill="#000"/>
<path d="M340.5 377.5H346.5M340.5 363.5H346.5M340.5 349.5H346.5M340.5 335.5H346.5M340.5 321.5H346.5M340.5 307.5H346.5" class="ln"/>
<path d="M657.0 304.5H925.0M657.0 387.5H925.0M658.5 304.0V388.0M923.5 304.0V388.0" class="ln"/>
<path d="M667.5 387.5V393.5M717.5 387.5V393.5M766.5 387.5V393.5M816.5 387.5V393.5M865.5 387.5V393.5M915.5 387.5V393.5" class="ln"/>
<rect x="802" y="410" width="1" height="1" fill="#000"/>
<path d="M652.5 377.5H658.5M652.5 363.5H658.5M652.5 349.5H658.5M652.5 335.5H658.5M652.5 321.5H658.5M652.5 307.5H658.5" class="ln"/>
<path d="M33.0 433.5H301.0M33.0 516.5H301.0M34.5 433.0V517.0M299.5 433.0V517.0" class="ln"/>
<path d="M43.5 516.5V522.5M93.5 516.5V522.5M142.5 516.5V522.5M192.5 516.5V522.5M241.5 516.5V522.5M291.5 516.5V522.5" class="ln"/>
<rect x="178" y="539" width="1" height="1" fill="#000"/>
<path d="M28.5 506.5H34.5M28.5 492.5H34.5M28.5 478.5H34.5M28.5 464.5H34.5M28.5 450.5H34.5M28.5 436.5H34.5" class="ln"/>
</svg></body></html>
